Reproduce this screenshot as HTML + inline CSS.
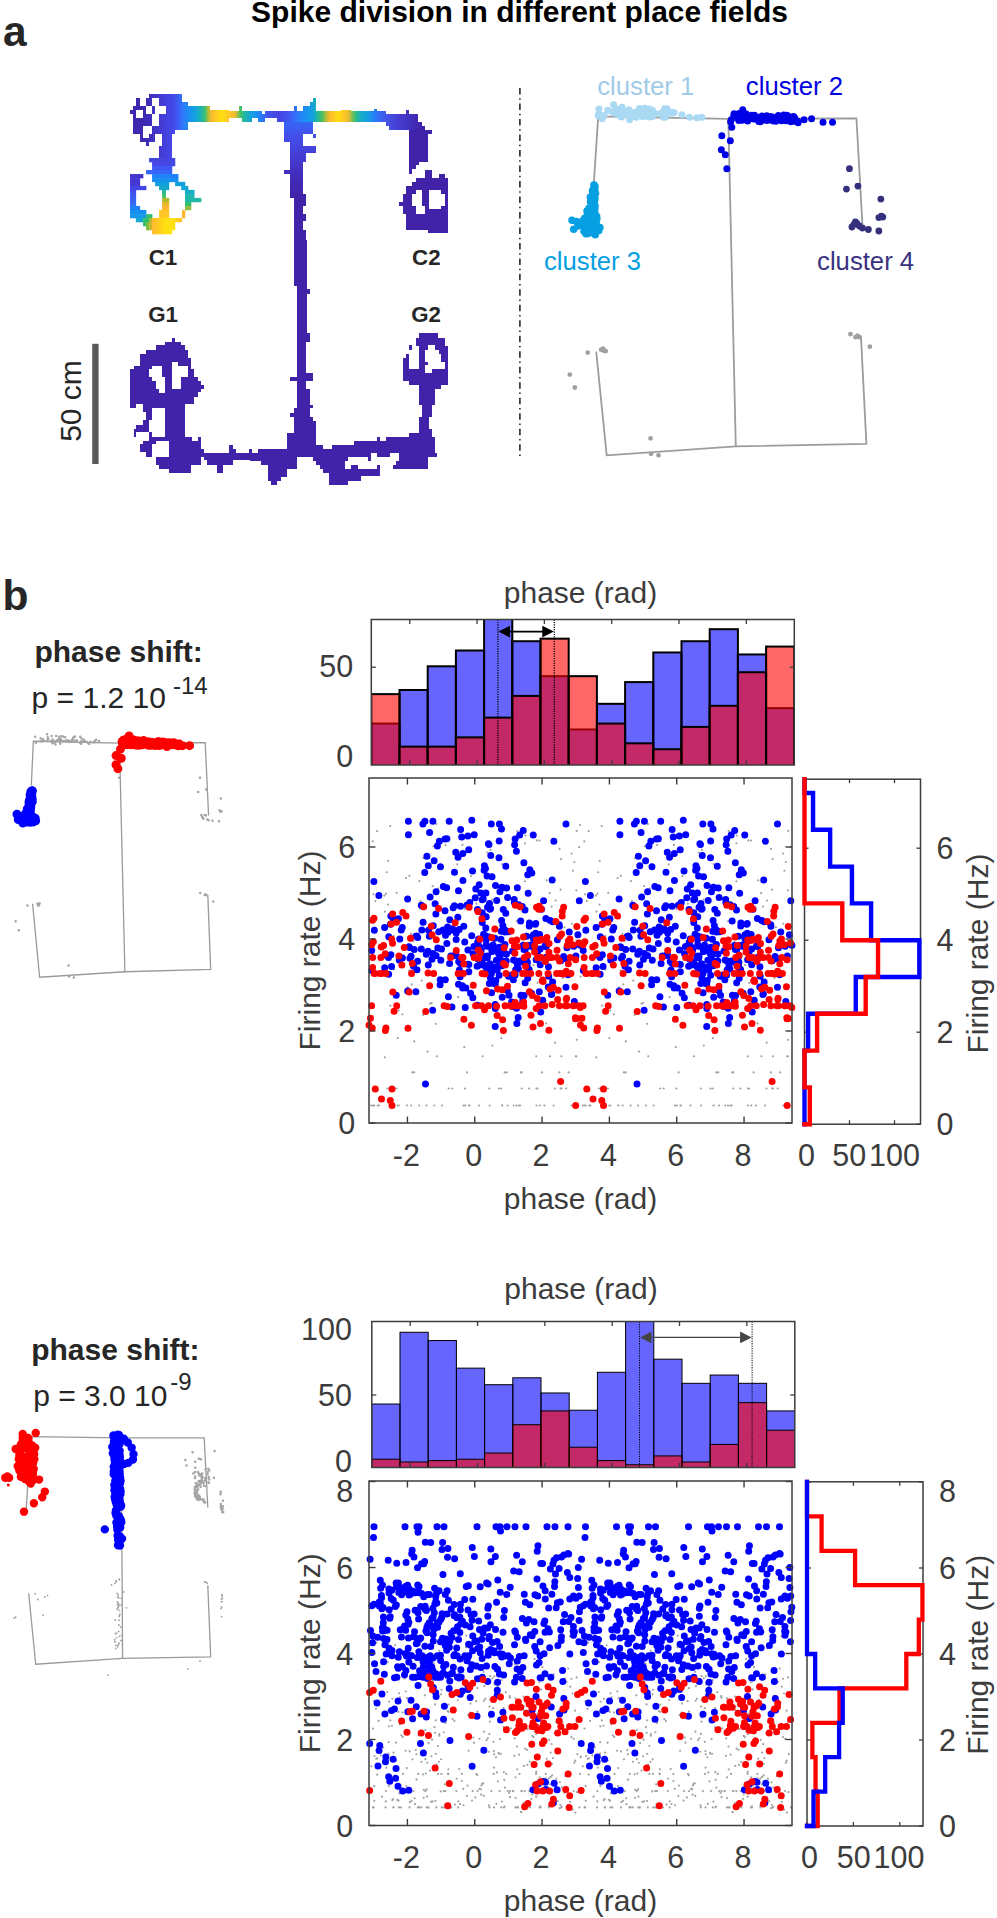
<!DOCTYPE html>
<html><head><meta charset="utf-8"><title>Spike division in different place fields</title>
<style>html,body{margin:0;padding:0;background:#fff}svg{display:block;font-family:"Liberation Sans",sans-serif}</style>
</head><body>
<svg width="997" height="1918" viewBox="0 0 997 1918">
<rect width="997" height="1918" fill="#fff"/>
<text x="3" y="46" font-size="42.5" text-anchor="start" font-weight="bold" fill="#262626">a</text>
<text x="519.5" y="22.2" font-size="30" text-anchor="middle" font-weight="bold" fill="#000">Spike division in different place fields</text>
<defs><linearGradient id="gt" gradientUnits="userSpaceOnUse" x1="128" y1="0" x2="450" y2="0"><stop offset="0.0000" stop-color="#4123aa"/><stop offset="0.0528" stop-color="#3f2ab2"/><stop offset="0.0745" stop-color="#4030c0"/><stop offset="0.1149" stop-color="#4540dc"/><stop offset="0.1398" stop-color="#4548ea"/><stop offset="0.1584" stop-color="#3a62f5"/><stop offset="0.1708" stop-color="#2f78fb"/><stop offset="0.1863" stop-color="#1c8cf3"/><stop offset="0.2112" stop-color="#12a4dc"/><stop offset="0.2267" stop-color="#1fb5ac"/><stop offset="0.2391" stop-color="#3cc078"/><stop offset="0.2484" stop-color="#a8be3c"/><stop offset="0.2578" stop-color="#f0ba30"/><stop offset="0.2671" stop-color="#ffc32a"/><stop offset="0.2919" stop-color="#ffe010"/><stop offset="0.3168" stop-color="#ffc52a"/><stop offset="0.3323" stop-color="#efba32"/><stop offset="0.3416" stop-color="#90c048"/><stop offset="0.3509" stop-color="#3cc070"/><stop offset="0.3665" stop-color="#1fb4b0"/><stop offset="0.3851" stop-color="#14a0e0"/><stop offset="0.4037" stop-color="#1c8cf3"/><stop offset="0.4193" stop-color="#3072f8"/><stop offset="0.4348" stop-color="#4552ea"/><stop offset="0.4720" stop-color="#4545e4"/><stop offset="0.5031" stop-color="#3f5af2"/><stop offset="0.5248" stop-color="#2f76fa"/><stop offset="0.5497" stop-color="#1c8ef2"/><stop offset="0.5745" stop-color="#12a2de"/><stop offset="0.5870" stop-color="#20b6a4"/><stop offset="0.6025" stop-color="#48c060"/><stop offset="0.6149" stop-color="#b0be3a"/><stop offset="0.6242" stop-color="#f0ba30"/><stop offset="0.6335" stop-color="#ffc22a"/><stop offset="0.6522" stop-color="#ffde12"/><stop offset="0.6739" stop-color="#ffc42a"/><stop offset="0.6863" stop-color="#e0bc34"/><stop offset="0.6957" stop-color="#80c050"/><stop offset="0.7081" stop-color="#30bc84"/><stop offset="0.7236" stop-color="#18acc8"/><stop offset="0.7422" stop-color="#14a0e0"/><stop offset="0.7640" stop-color="#2482f6"/><stop offset="0.7857" stop-color="#3c64f2"/><stop offset="0.8075" stop-color="#4550e6"/><stop offset="0.8354" stop-color="#4540d4"/><stop offset="0.8758" stop-color="#4030bc"/><stop offset="0.9130" stop-color="#4123aa"/><stop offset="1.0000" stop-color="#4123aa"/></linearGradient>
<linearGradient id="gs" gradientUnits="userSpaceOnUse" x1="0" y1="108" x2="0" y2="240"><stop offset="0.0000" stop-color="#2f76fa"/><stop offset="0.1061" stop-color="#3566f6"/><stop offset="0.2045" stop-color="#4350ea"/><stop offset="0.3182" stop-color="#4542dc"/><stop offset="0.4545" stop-color="#4332c4"/><stop offset="0.5833" stop-color="#4128b2"/><stop offset="0.6742" stop-color="#4123aa"/><stop offset="1.0000" stop-color="#4123aa"/></linearGradient>
<linearGradient id="gn" gradientUnits="userSpaceOnUse" x1="0" y1="131" x2="0" y2="162"><stop offset="0.0000" stop-color="#4234c8"/><stop offset="0.4516" stop-color="#4238ce"/><stop offset="0.8710" stop-color="#4545e0"/><stop offset="1.0000" stop-color="#4548e8"/></linearGradient>
<linearGradient id="gl" gradientUnits="userSpaceOnUse" x1="0" y1="190" x2="0" y2="206"><stop offset="0" stop-color="#4548ea"/><stop offset="1" stop-color="#2f70f8"/></linearGradient>
<linearGradient id="gy" gradientUnits="userSpaceOnUse" x1="152" y1="0" x2="182" y2="0"><stop offset="0" stop-color="#ffb830"/><stop offset="0.45" stop-color="#ffe010"/><stop offset="0.7" stop-color="#ffe010"/><stop offset="1" stop-color="#ffc02a"/></linearGradient></defs>
<path d="M149.07 94.02H181.57V102.04H149.07ZM181.57 102.04H187.99V130.13H181.57ZM145.86 98.03H181.57V130.13H145.86ZM133.02 106.05H149.07V134.14H133.02ZM135.99 98.03H139.84V106.05H135.99ZM129.97 110.07H133.02V113.68H129.97ZM139.84 134.14H155.49V141.76H139.84ZM145.86 141.76H149.07V146.17H145.86ZM149.07 130.13H174.75V134.14H149.07ZM161.91 134.14H171.94V157.81H161.91ZM159.1 146.17H171.94V157.81H159.1Z" fill="url(#gt)" shape-rendering="crispEdges"/>
<path d="M152.28 98.03H159.1V106.05H152.28ZM155.49 106.05H165.52V113.68H155.49ZM145.86 106.05H152.28V113.68H145.86ZM152.28 113.68H159.1V126.11H152.28ZM135.99 110.07H143.05V118.09H135.99ZM143.05 126.11H152.28V134.14H143.05ZM143.05 134.14H149.07V138.15H143.05Z" fill="#fff" shape-rendering="crispEdges"/>
<path d="M181.38 102.05H188.2V121.66H181.38ZM188.2 106.31H210.37V121.66H188.2ZM210.37 109.72H229.13V121.66H210.37ZM229.13 110.58H239.36V118.25H229.13ZM239.36 106.31H241.92V118.25H239.36ZM241.92 110.58H261.52V118.25H241.92ZM241.92 118.25H252.15V121.66H241.92ZM258.11 113.99H264.93V121.66H258.11ZM264.93 110.58H290.51V118.25H264.93ZM276.87 118.25H290.51V121.66H276.87Z" fill="url(#gt)" shape-rendering="crispEdges"/>
<rect x="149.07" y="157.99" width="26.18" height="4.31" fill="#4545e0"/>
<rect x="152.08" y="162.01" width="23.17" height="4.31" fill="#4548e8"/>
<rect x="152.08" y="166.02" width="20.16" height="4.31" fill="#3f58f2"/>
<rect x="146.06" y="170.03" width="26.18" height="4.31" fill="#3565f8"/>
<rect x="152.08" y="174.04" width="26.38" height="4.31" fill="#1f80fa"/>
<rect x="152.08" y="178.05" width="26.38" height="4.11" fill="#1590f0"/>
<rect x="155.09" y="181.87" width="14.14" height="4.31" fill="#12a0dd"/>
<rect x="159.1" y="185.88" width="10.13" height="4.31" fill="#15a8c8"/>
<rect x="175.15" y="181.87" width="10.13" height="4.31" fill="#12a0dd"/>
<rect x="181.17" y="185.88" width="7.12" height="4.31" fill="#12a8d5"/>
<rect x="184.98" y="189.89" width="9.53" height="4.51" fill="#15acc8"/>
<rect x="184.98" y="194.1" width="9.53" height="4.11" fill="#20b5b0"/>
<rect x="184.98" y="197.91" width="16.35" height="4.31" fill="#22b8a8"/>
<rect x="184.98" y="201.93" width="6.32" height="4.31" fill="#30c070"/>
<rect x="184.98" y="205.94" width="6.32" height="4.31" fill="#90bc40"/>
<rect x="181.97" y="209.95" width="3.31" height="8.32" fill="#ffb830"/>
<rect x="162.11" y="189.89" width="3.81" height="4.51" fill="#20b898"/>
<rect x="162.11" y="194.1" width="3.81" height="4.11" fill="#40c060"/>
<rect x="162.11" y="197.91" width="7.12" height="4.31" fill="#b0bc30"/>
<rect x="162.11" y="201.93" width="7.12" height="4.31" fill="#e8b828"/>
<rect x="162.11" y="205.94" width="7.12" height="4.31" fill="#ffb830"/>
<rect x="159.1" y="209.95" width="10.13" height="8.32" fill="#ffc828"/>
<rect x="130.02" y="174.04" width="13.34" height="4.31" fill="#4535d0"/>
<rect x="130.02" y="178.05" width="10.13" height="8.12" fill="#4538d5"/>
<rect x="130.02" y="185.88" width="16.35" height="4.31" fill="#4545e5"/>
<rect x="130.02" y="189.89" width="6.12" height="16.35" fill="url(#gl)"/>
<rect x="130.02" y="205.94" width="10.13" height="4.31" fill="#2080f8"/>
<rect x="130.02" y="209.95" width="16.35" height="4.51" fill="#1590f0"/>
<rect x="130.02" y="214.16" width="16.35" height="4.11" fill="#1598e8"/>
<rect x="146.06" y="214.16" width="6.32" height="4.11" fill="#30c070"/>
<rect x="135.83" y="217.97" width="7.52" height="4.31" fill="#15a8d0"/>
<rect x="143.05" y="217.97" width="6.32" height="4.31" fill="#30c070"/>
<rect x="149.07" y="217.97" width="3.31" height="4.31" fill="#b0bc30"/>
<rect x="143.05" y="221.99" width="3.31" height="4.31" fill="#30c070"/>
<rect x="146.06" y="221.99" width="3.31" height="8.32" fill="#80bc40"/>
<rect x="149.07" y="221.99" width="3.31" height="8.32" fill="#c8b830"/>
<rect x="152.08" y="217.97" width="29.89" height="4.31" fill="url(#gy)"/>
<rect x="152.08" y="221.99" width="23.17" height="8.32" fill="url(#gy)"/>
<rect x="152.08" y="230.01" width="20.16" height="4.31" fill="url(#gy)"/>
<path d="M280 110.58H315.81V121.66H280ZM293.64 106.31H297.05V110.58H293.64ZM303.02 106.31H309.84V110.58H303.02ZM309.84 102.05H313.25V110.58H309.84ZM313.25 97.79H315.81V110.58H313.25ZM315.81 110.58H385.72V121.66H315.81ZM341.38 110.07H350.76V110.92H341.38ZM373.78 109.21H377.19V110.92H373.78ZM406.18 109.72H408.74V113.99H406.18ZM385.72 113.99H418.11V125.92H385.72ZM389.13 121.66H421.52V130.19H389.13Z" fill="url(#gt)" shape-rendering="crispEdges"/>
<path d="M284.26 121.66H313.25V133.6H284.26ZM284.26 133.6H306.43V142.12H284.26ZM290.23 142.12H303.02V197.54H290.23ZM303.02 146.38H315.81V153.2H303.02ZM313.25 145.53H315.81V153.2H313.25ZM313.25 134.45H315.81V137.86H313.25ZM303.02 153.2H306.43V161.73H303.02ZM284.26 170.26H290.23V173.67H284.26Z" fill="url(#gs)" shape-rendering="crispEdges"/>
<path d="M303.02 134.45H313.25V142.12H303.02Z" fill="#fff" shape-rendering="crispEdges"/>
<path d="M408.74 130.19H428.35V161.73H408.74ZM421.52 125.92H424.93V130.19H421.52ZM428.35 130.19H431.76V134.45H428.35ZM408.74 158.32H418.97V165.14H408.74ZM408.74 165.14H415.56V169.4H408.74ZM408.74 169.4H412.15V173.67H408.74ZM293.64 194.13H306.43V246.13H293.64ZM424.93 170.26H431.76V177.93H424.93ZM438.58 173.67H444.54V177.93H438.58ZM415.56 177.93H447.95V186.45H415.56ZM412.15 182.19H447.95V187.31H412.15ZM406.18 186.45H447.95V229.93H406.18ZM402.77 194.13H406.18V213.74H402.77ZM399.36 201.8H402.77V206.06H399.36ZM428.35 229.93H447.95V233.35H428.35Z" fill="#4123aa" shape-rendering="crispEdges"/>
<path d="M303.02 206.06H306.43V213.74H303.02ZM303.02 221.41H306.43V229.93H303.02ZM415.56 189.86H421.52V194.13H415.56ZM412.15 194.13H421.52V206.06H412.15ZM415.56 206.06H424.93V213.74H415.56ZM429.2 189.86H441.13V209.47H429.2ZM441.13 194.13H444.54V206.06H441.13Z" fill="#fff" shape-rendering="crispEdges"/>
<path d="M294 240H306.8V335H297V285.5H294Z M306.8 289.3h3v4.5h-3z" fill="#4123aa" shape-rendering="crispEdges"/>
<path d="M172.01 337.67H174.56V341.94H172.01ZM165.19 341.94H181.38V346.2H165.19ZM155.81 345.35H184.79V349.61H155.81ZM146.43 349.61H188.2V353.87H146.43ZM139.61 353.87H188.2V358.13H139.61ZM139.61 358.13H190.76V365.81H139.61ZM133.64 365.81H190.76V369.22H133.64ZM130.23 369.22H194.17V404.17H130.23ZM194.17 376.89H197.58V396.5H194.17ZM197.58 381.15H200.99V392.24H197.58ZM200.99 384.56H203.55V388.83H200.99ZM130.23 404.17H136.2V408.44H130.23ZM143.02 404.17H184.79V408.44H143.02ZM165.19 404.17H184.79V437.42H165.19ZM143.02 408.44H152.4V411.85H143.02ZM146.43 411.85H152.4V420.37H146.43ZM143.02 420.37H148.99V424.63H143.02ZM136.2 424.63H148.99V428.9H136.2ZM133.64 428.9H148.99V432.31H133.64ZM133.64 432.31H136.2V436.57H133.64ZM148.99 432.31H152.4V438.27H148.99ZM148.99 436.57H165.19V440.83H148.99ZM143.02 440.83H155.81V444.24H143.02ZM139.61 444.24H152.4V451.92H139.61ZM145.58 451.92H152.4V457.03H145.58ZM165.19 437.42H191.61V440.83H165.19ZM197.58 437.08H200.99V440.83H197.58ZM168.6 440.83H200.99V449.36H168.6ZM168.6 449.36H203.55V457.03H168.6ZM155.81 457.03H200.99V464.7H155.81ZM159.22 464.7H190.76V468.97H159.22ZM168.6 468.97H190.76V472.89H168.6ZM203.55 452.77H258.11V460.44H203.55ZM229.13 445.1H232.54V452.77H229.13ZM232.54 449.36H235.95V452.77H232.54ZM248.74 449.36H252.15V452.77H248.74ZM206.96 460.44H232.54V464.7H206.96ZM217.19 464.7H223.16V472.89H217.19ZM258.11 449.36H290.51V464.7H258.11ZM261.52 464.7H290.51V468.97H261.52ZM268.35 468.97H287.1V480.05H268.35ZM270.9 480.05H281.13V484.31H270.9ZM287.1 433.16H290.51V449.36H287.1Z" fill="#4123aa" shape-rendering="crispEdges"/>
<path d="M152.4 365.81H161.78V369.22H152.4ZM148.99 369.22H161.78V376.89H148.99ZM152.4 376.89H165.19V381.15H152.4ZM155.81 381.15H165.19V388.83H155.81ZM159.22 388.83H165.19V393.09H159.22ZM172.01 361.54H177.97V388.83H172.01ZM177.97 365.81H188.2V376.89H177.97ZM177.97 376.89H181.38V388.83H177.97Z" fill="#fff" shape-rendering="crispEdges"/>
<path d="M297.05 329.15H306.43V434.01H297.05ZM306.43 333.41H309.84V341.94H306.43ZM290.23 376.89H297.05V381.15H290.23ZM306.43 373.48H313.25V381.15H306.43ZM306.43 388.83H309.84V416.96H306.43ZM309.84 405.03H313.25V408.44H309.84ZM293.64 408.44H297.05V434.01H293.64ZM290.23 412.7H293.64V416.96H290.23ZM306.43 416.96H313.25V434.01H306.43ZM313.25 421.22H315.81V445.95H313.25ZM286.82 433.16H315.81V449.36H286.82ZM280 449.36H297.05V468.97H280ZM280 468.97H286.82V476.64H280ZM280 476.64H283.41V480.9H280ZM297.05 449.36H322.63V457.03H297.05ZM315.81 445.1H322.63V449.36H315.81ZM313.25 457.03H428.35V461.29H313.25ZM316.66 461.29H428.35V465.56H316.66ZM320.07 465.56H428.35V468.97H320.07ZM323.48 468.97H379.75V473.23H323.48ZM329.45 473.23H379.75V476.64H329.45ZM329.45 476.64H360.99V480.9H329.45ZM329.45 480.9H348.2V484.82H329.45ZM322.63 449.36H428.35V457.03H322.63ZM332.01 445.1H354.17V449.36H332.01ZM354.17 440.83H386.57V449.36H354.17ZM377.19 437.08H379.75V440.83H377.19ZM386.57 437.08H408.74V449.36H386.57ZM408.74 433.16H431.76V449.36H408.74ZM418.97 387.97H435.17V405.03H418.97ZM421.52 405.03H431.76V416.96H421.52ZM418.97 416.96H429.2V433.16H418.97ZM429.2 428.9H431.76V437.42H429.2ZM431.76 437.08H435.17V457.03H431.76ZM435.17 452.77H436.87V457.03H435.17ZM418.97 333.41H437.72V337.67H418.97ZM415.56 337.67H444.54V346.2H415.56ZM441.13 337.67H444.54V349.61H441.13ZM444.54 346.2H447.95V384.56H444.54ZM418.97 337.67H424.93V372.63H418.97ZM406.18 353.87H408.74V358.13H406.18ZM402.77 358.13H408.74V381.15H402.77ZM408.74 345.35H412.15V349.61H408.74ZM408.74 369.22H421.52V372.63H408.74ZM402.77 372.63H447.95V381.15H402.77ZM408.74 381.15H447.95V384.56H408.74ZM418.97 384.56H441.13V388.83H418.97ZM424.93 345.35H444.54V372.63H424.93Z" fill="#4123aa" shape-rendering="crispEdges"/>
<path d="M348.2 457.03H370.37V461.29H348.2ZM344.79 461.29H351.61V468.97H344.79ZM358.44 465.56H377.19V468.97H358.44ZM370.37 452.77H399.36V457.03H370.37ZM395.95 457.03H399.36V461.29H395.95ZM392.54 461.29H399.36V465.56H392.54ZM379.75 465.56H392.54V468.97H379.75ZM428.35 345.35H435.17V349.61H428.35ZM424.93 349.61H438.58V353.87H424.93ZM424.93 353.87H441.13V361.54H424.93ZM428.35 361.54H444.54V369.22H428.35ZM424.93 364.95H444.54V369.22H424.93ZM424.93 369.22H431.76V372.63H424.93Z" fill="#fff" shape-rendering="crispEdges"/>
<path d="M377.19 452.77H379.75V457.03H377.19ZM351.61 464.7H358.44V468.97H351.61Z" fill="#4123aa" shape-rendering="crispEdges"/>
<rect x="250" y="412" width="90" height="80" fill="#fff"/>
<path d="M296.94 411.74H309.58V417.15H296.94ZM294.23 411.74H296.94V417.15H294.23ZM290.17 413.09H294.23V417.15H290.17ZM294.23 417.15H313.19V421.21H294.23ZM294.23 421.21H315.9V432.95H294.23ZM287.01 432.95H315.9V449.2H287.01ZM315.9 445.14H322.67V449.2H315.9ZM250 449.2H251.81V453.26H250ZM258.12 449.2H340.27V456.87H258.12ZM250 453.26H258.12V456.87H250ZM250 456.87H296.94V461.38H250ZM261.28 461.38H296.94V464.99H261.28ZM268.05 464.99H296.94V469.06H268.05ZM268.05 469.06H287.01V476.73H268.05ZM268.05 476.73H280.69V480.79H268.05ZM271.21 480.79H277.08V484.85H271.21ZM332.15 445.14H340.27V449.2H332.15ZM313.19 456.87H340.27V461.38H313.19ZM316.35 461.38H340.27V464.99H316.35ZM319.51 464.99H340.27V469.06H319.51ZM322.67 469.06H340.27V473.12H322.67ZM328.99 473.12H340.27V484.85H328.99Z" fill="#4123aa" shape-rendering="crispEdges"/>
<rect x="330" y="430" width="107" height="62" fill="#fff"/>
<path d="M330 449.31H332.21V469.17H330ZM332.21 445.23H354.27V469.17H332.21ZM354.27 441.03H386.27V469.17H354.27ZM377.44 437.17H380.2V441.03H377.44ZM386.27 437.17H408.89V469.17H386.27ZM408.89 433.09H418.82V468.62H408.89ZM418.82 429.45H428.19V468.62H418.82ZM428.19 429.45H432.06V457.03H428.19ZM432.06 437.17H434.81V457.03H432.06ZM434.81 453.17H437.02V457.03H434.81ZM330 469.17H380.2V476.34H330ZM330 476.34H360.89V481.3H330ZM330 481.3H347.65V484.61H330Z" fill="#4123aa" shape-rendering="crispEdges"/>
<path d="M370.82 453.17H377.44V457.03H370.82ZM390.13 453.17H398.96V457.03H390.13ZM347.65 457.03H367.51V461.44H347.65ZM370.82 457.03H398.96V461.44H370.82ZM344.89 461.44H350.96V469.17H344.89ZM350.96 461.44H357.58V465.31H350.96ZM357.58 461.44H377.44V469.17H357.58ZM377.44 461.44H380.2V465.31H377.44ZM380.2 461.44H396.2V465.31H380.2ZM380.2 465.31H392.89V469.17H380.2Z" fill="#fff" shape-rendering="crispEdges"/>
<text x="163" y="265" font-size="22.3" text-anchor="middle" font-weight="bold" fill="#262626">C1</text>
<text x="426.3" y="265" font-size="22.3" text-anchor="middle" font-weight="bold" fill="#262626">C2</text>
<text x="163" y="322" font-size="22.3" text-anchor="middle" font-weight="bold" fill="#262626">G1</text>
<text x="426" y="322" font-size="22.3" text-anchor="middle" font-weight="bold" fill="#262626">G2</text>
<rect x="92.2" y="343.8" width="6.4" height="120.2" fill="#595959"/>
<text x="81" y="401" font-size="30" text-anchor="middle" font-weight="normal" fill="#262626" transform="rotate(-90 81 401)">50 cm</text>
<line x1="519.9" y1="88.1" x2="519.9" y2="456.5" stroke="#1a1a1a" stroke-width="1.5" stroke-dasharray="6.5 3.75 1.5 3.73"/>
<path d="M593.72 184.63L598.21 116.33L728.32 118.82L856.43 118.33L862.41 224.51" fill="none" stroke="#9c9c9c" stroke-width="1.8"/>
<path d="M728.32 118.82L735.79 446.34" fill="none" stroke="#9c9c9c" stroke-width="1.8"/>
<path d="M596.21 351.63L606.68 455.31L735.79 446.34L866.4 443.85L860.92 335.67" fill="none" stroke="#9c9c9c" stroke-width="1.8"/>
<path d="M587.74 352.62h0M601.2 349.63h0M603.69 350.63h0M605.68 351.13h0M603.19 348.63h0M569.79 374.56h0M574.78 387.52h0M650.55 438.36h0M651.05 453.82h0M658.52 455.31h0M850.45 334.18h0M855.43 337.17h0M859.42 337.17h0M857.43 335.67h0M869.89 346.64h0" stroke="#a0a0a0" stroke-width="4.8" stroke-linecap="round" fill="none"/>
<path d="M615.6 113.24h0M625.79 113.77h0M645.56 108.94h0M598.23 115.87h0M617.25 110.46h0M674.14 112.57h0M661.84 112.63h0M646.59 109.71h0M646.26 116.14h0M637.63 115.01h0M649.09 108.93h0M655.8 113.66h0M620.49 108.63h0M664.09 112.6h0M652.75 116.24h0M652.39 116.62h0M627.73 115.54h0M631.56 116.75h0M665.12 109.23h0M607.71 110.3h0M671.81 112.27h0M645.63 111.06h0M636.4 111.82h0M624.32 113.6h0M642.35 116.47h0M649.9 116.69h0M663.38 117.25h0M649.08 109.82h0M663.71 117.01h0M667.11 113.46h0M652.36 110.25h0M661.47 113.5h0M619.23 108.92h0M663.19 117.24h0M604.05 115.54h0M628.92 109.71h0M619.92 115.25h0M664.65 108.75h0M644.69 108.76h0M652.72 111.32h0M665.27 117.15h0M636.26 117.31h0M621.14 109.05h0M643.55 108.64h0M612.46 112.02h0M644.38 109.76h0M600.49 116.14h0M621.46 116.96h0M666.49 111.74h0M632.78 113.02h0M646.96 113.7h0M640.42 113.92h0M669.89 112.9h0M630.53 114.82h0M615.57 111.06h0M672.76 113.03h0M639.58 108.46h0M629.29 113.56h0M598.76 113.88h0M646.06 108.89h0M645.68 112.54h0M649.7 111.52h0M651.83 114.98h0M598.92 108.9h0M649.44 117h0M616.61 112.45h0M643 111.23h0M625.33 111.16h0M625.73 113.7h0M620.42 111.74h0M613.66 104.87h0M622.13 107.36h0M644.57 108.35h0M667 108.85h0M681.95 114.84h0M689.43 117.33h0M696.91 117.83h0M701.89 117.33h0M629.61 119.82h0M602.19 118.82h0" stroke="#a9d9f3" stroke-width="7" stroke-linecap="round" fill="none"/>
<path d="M783.44 115.19h0M769.47 119.99h0M751.64 115.36h0M785.61 116.73h0M743.2 117.01h0M778.33 115.48h0M752.46 116.36h0M787.65 118.14h0M789.16 116.4h0M753.47 119.12h0M791.18 118.32h0M745.79 114.22h0M766.74 115.67h0M785.81 120.82h0M742.94 115.55h0M785.84 119.48h0M785.77 117.46h0M739.23 115.55h0M784.92 116.93h0M754.14 117.12h0M759.19 117.19h0M793.64 116.5h0M730.63 121.75h0M790.85 121.8h0M760.19 121.69h0M794.11 116.94h0M781.6 120.8h0M775.92 118.45h0M750.19 116.35h0M745.96 113.74h0M770.81 116.57h0M786.05 115.44h0M792.47 119.9h0M793.86 121.2h0M792.2 119.15h0M731.21 119.78h0M742.13 115.72h0M775.91 118.49h0M758.77 121.6h0M772.42 117.03h0M747.68 120.95h0M763.14 120.32h0M754.51 115.25h0M767.09 120.61h0M742.09 120.29h0M793.72 120.63h0M786.96 115.23h0M773.55 120.97h0M733.74 115.17h0M748.79 117.97h0M759.41 117.73h0M783.73 115.03h0M734.08 113.77h0M738.88 113.42h0M797.36 120.94h0M736.23 117.48h0M752.04 116.18h0M754.48 119.11h0M770.66 117.13h0M743.45 116.03h0M738.82 118.04h0M779.57 117.53h0M735.81 114.34h0M755.99 118.77h0M784.15 117.66h0M785.42 119.35h0M760 116.91h0M764.44 119.69h0M759.24 119.56h0M762.01 115.93h0M767.17 119.65h0M735.23 116.71h0M759.61 121.11h0M794.73 117.92h0M792.08 120.53h0M748.35 117.39h0M738.78 120.48h0M775.87 121.16h0M784.83 119.64h0M780.79 118.86h0M742.77 109.85h0M804.09 119.82h0M811.57 118.82h0M823.03 122.31h0M832.5 122.31h0M731.8 127.3h0M721.83 135.77h0M730.31 140.76h0M721.34 149.73h0M725.32 154.72h0M726.82 168.67h0M798.11 122.81h0" stroke="#0000e6" stroke-width="7" stroke-linecap="round" fill="none"/>
<path d="M594.02 191.45h0M593.91 184.92h0M583.33 220.16h0M592.46 190.81h0M584.29 224.04h0M595.03 186.49h0M594.9 192.44h0M595.04 216.37h0M590.72 226.62h0M582.91 221.06h0M590.32 219.9h0M584.92 217.95h0M596.53 219.22h0M593.53 189h0M594.86 212.13h0M590.92 198.45h0M593.49 198.81h0M588.67 219.39h0M591.29 204.05h0M591.58 203.31h0M593.85 190.32h0M587.64 227.35h0M585.34 219.16h0M593.97 217.03h0M590.82 216.39h0M592.96 208.91h0M583.62 224.65h0M594.6 191.04h0M589.77 225.34h0M593.79 207.24h0M592.01 195.76h0M593.53 196.4h0M590.49 201.76h0M596.64 217.04h0M593.94 200.91h0M595.03 206h0M588.28 212.94h0M590.34 197.29h0M590.37 208.74h0M592.59 195.07h0M594.39 202.07h0M595.52 193.62h0M592.53 208.74h0M594.88 208.27h0M590.8 221.9h0M593.75 208.81h0M588.12 223.18h0M596.86 218.64h0M588.96 208.24h0M594.14 198.1h0M596.67 216.44h0M585.57 223.08h0M591.93 195.93h0M594.18 195.82h0M596.24 223.25h0M595.01 199.05h0M591.88 201.69h0M584.47 218.47h0M594.89 190.86h0M591.57 200.72h0M593.09 212.77h0M594.21 185.12h0M591.64 206.96h0M593.48 196.93h0M587.35 226.72h0M587 211.35h0M593.72 199.95h0M595.07 191.96h0M582.61 225.06h0M587.14 226.22h0M593.95 220.09h0M593.74 200.89h0M594.63 215.63h0M594.31 199.53h0M592.38 226.93h0M587.03 211.02h0M589.96 209.32h0M592.87 218.06h0M587.47 212.22h0M592.4 215.31h0M595.27 234.74h0M589.38 225.03h0M594.64 226.17h0M587.23 233.79h0M585.34 223.86h0M587.33 222.9h0M589.73 230.8h0M598.81 230.5h0M591.5 221.24h0M590.92 222.42h0M590.7 232.74h0M592.7 226.25h0M586.44 227.38h0M591.99 222.48h0M588.21 232.18h0M583 225.58h0M585.88 233.74h0M595.17 230.36h0M593.96 229.17h0M592.81 220.37h0M592.99 230.89h0M584 231.17h0M594.69 220.76h0M588.17 225.72h0M587.85 229.73h0M584.04 226.39h0M592.75 231.56h0M591.63 226.05h0M594.32 219.92h0M597.05 225.85h0M584.24 225.39h0M584.85 221.25h0M589.23 223.21h0M595.63 222.94h0M584.6 223.19h0M599.88 227.61h0M587.7 222.43h0M584.74 226.65h0M593.78 233.3h0M598.03 228.89h0M587.34 223h0M582.54 224.15h0M594.1 225.54h0M593.33 221.03h0M596.87 229.09h0M572 220.2h0M573.7 229.3h0M576.5 221.5h0M578 226h0" stroke="#069fe2" stroke-width="7.5" stroke-linecap="round" fill="none"/>
<path d="M849.45 168.67h0M857.93 186.12h0M846.46 189.11h0M880.86 199.08h0M881.36 216.03h0M878.86 217.53h0M882.85 217.03h0M853.94 224.51h0M856.93 223.51h0M859.42 226h0M862.41 228h0M868.39 229.49h0M878.86 230.99h0M851.94 227h0M855.43 222.01h0" stroke="#35307e" stroke-width="6.8" stroke-linecap="round" fill="none"/>
<text x="645.8" y="94.5" font-size="25.7" text-anchor="middle" font-weight="normal" fill="#9fcbe6">cluster 1</text>
<text x="794.4" y="94.5" font-size="25.7" text-anchor="middle" font-weight="normal" fill="#0000e0">cluster 2</text>
<text x="592.5" y="269.8" font-size="25.7" text-anchor="middle" font-weight="normal" fill="#069fe2">cluster 3</text>
<text x="865.6" y="269.8" font-size="25.7" text-anchor="middle" font-weight="normal" fill="#383280">cluster 4</text>
<text x="2.6" y="610.3" font-size="42.5" text-anchor="start" font-weight="bold" fill="#262626">b</text>
<clipPath id="hc1"><rect x="371.3" y="619.5" width="422.99999999999994" height="145.5"/></clipPath>
<g clip-path="url(#hc1)">
<rect x="371.3" y="723.55" width="28.2" height="44.45" fill="#0000ff" fill-opacity="0.6" stroke="#000" stroke-width="2.0"/>
<rect x="399.5" y="689.99" width="28.2" height="78.01" fill="#0000ff" fill-opacity="0.6" stroke="#000" stroke-width="2.0"/>
<rect x="427.7" y="666.3" width="28.2" height="101.7" fill="#0000ff" fill-opacity="0.6" stroke="#000" stroke-width="2.0"/>
<rect x="455.9" y="650.51" width="28.2" height="117.49" fill="#0000ff" fill-opacity="0.6" stroke="#000" stroke-width="2.0"/>
<rect x="484.1" y="587.34" width="28.2" height="180.66" fill="#0000ff" fill-opacity="0.6" stroke="#000" stroke-width="2.0"/>
<rect x="512.3" y="641.23" width="28.2" height="126.77" fill="#0000ff" fill-opacity="0.6" stroke="#000" stroke-width="2.0"/>
<rect x="540.5" y="676.17" width="28.2" height="91.83" fill="#0000ff" fill-opacity="0.6" stroke="#000" stroke-width="2.0"/>
<rect x="568.7" y="729.47" width="28.2" height="38.53" fill="#0000ff" fill-opacity="0.6" stroke="#000" stroke-width="2.0"/>
<rect x="596.9" y="703.81" width="28.2" height="64.19" fill="#0000ff" fill-opacity="0.6" stroke="#000" stroke-width="2.0"/>
<rect x="625.1" y="682.09" width="28.2" height="85.91" fill="#0000ff" fill-opacity="0.6" stroke="#000" stroke-width="2.0"/>
<rect x="653.3" y="652.48" width="28.2" height="115.52" fill="#0000ff" fill-opacity="0.6" stroke="#000" stroke-width="2.0"/>
<rect x="681.5" y="641.23" width="28.2" height="126.77" fill="#0000ff" fill-opacity="0.6" stroke="#000" stroke-width="2.0"/>
<rect x="709.7" y="629.19" width="28.2" height="138.81" fill="#0000ff" fill-opacity="0.6" stroke="#000" stroke-width="2.0"/>
<rect x="737.9" y="654.46" width="28.2" height="113.54" fill="#0000ff" fill-opacity="0.6" stroke="#000" stroke-width="2.0"/>
<rect x="766.1" y="708.15" width="28.2" height="59.85" fill="#0000ff" fill-opacity="0.6" stroke="#000" stroke-width="2.0"/>
<rect x="371.3" y="694.13" width="28.2" height="73.87" fill="#ff0000" fill-opacity="0.6" stroke="#000" stroke-width="2.0"/>
<rect x="399.5" y="746.64" width="28.2" height="21.36" fill="#ff0000" fill-opacity="0.6" stroke="#000" stroke-width="2.0"/>
<rect x="427.7" y="746.64" width="28.2" height="21.36" fill="#ff0000" fill-opacity="0.6" stroke="#000" stroke-width="2.0"/>
<rect x="455.9" y="737.36" width="28.2" height="30.64" fill="#ff0000" fill-opacity="0.6" stroke="#000" stroke-width="2.0"/>
<rect x="484.1" y="717.62" width="28.2" height="50.38" fill="#ff0000" fill-opacity="0.6" stroke="#000" stroke-width="2.0"/>
<rect x="512.3" y="695.91" width="28.2" height="72.09" fill="#ff0000" fill-opacity="0.6" stroke="#000" stroke-width="2.0"/>
<rect x="540.5" y="638.66" width="28.2" height="129.34" fill="#ff0000" fill-opacity="0.6" stroke="#000" stroke-width="2.0"/>
<rect x="568.7" y="676.17" width="28.2" height="91.83" fill="#ff0000" fill-opacity="0.6" stroke="#000" stroke-width="2.0"/>
<rect x="596.9" y="723.55" width="28.2" height="44.45" fill="#ff0000" fill-opacity="0.6" stroke="#000" stroke-width="2.0"/>
<rect x="625.1" y="743.29" width="28.2" height="24.71" fill="#ff0000" fill-opacity="0.6" stroke="#000" stroke-width="2.0"/>
<rect x="653.3" y="749.21" width="28.2" height="18.79" fill="#ff0000" fill-opacity="0.6" stroke="#000" stroke-width="2.0"/>
<rect x="681.5" y="726.9" width="28.2" height="41.1" fill="#ff0000" fill-opacity="0.6" stroke="#000" stroke-width="2.0"/>
<rect x="709.7" y="705.78" width="28.2" height="62.22" fill="#ff0000" fill-opacity="0.6" stroke="#000" stroke-width="2.0"/>
<rect x="737.9" y="672.22" width="28.2" height="95.78" fill="#ff0000" fill-opacity="0.6" stroke="#000" stroke-width="2.0"/>
<rect x="766.1" y="646.56" width="28.2" height="121.44" fill="#ff0000" fill-opacity="0.6" stroke="#000" stroke-width="2.0"/>
</g>
<line x1="497.9" y1="619.5" x2="497.9" y2="765" stroke="#000" stroke-width="1.3" stroke-dasharray="1.2 1.2"/>
<line x1="554.3" y1="619.5" x2="554.3" y2="765" stroke="#000" stroke-width="1.3" stroke-dasharray="1.2 1.2"/>
<line x1="501.9" y1="631.6" x2="550.3" y2="631.6" stroke="#000" stroke-width="1.7"/>
<path d="M498.4 631.6l11.5 -5.8v11.6z M553.8 631.6l-11.5 -5.8v11.6z" fill="#000"/>
<line x1="409.73" y1="765" x2="409.73" y2="760.5" stroke="#3c3c3c" stroke-width="1.3"/>
<line x1="409.73" y1="619.5" x2="409.73" y2="624" stroke="#3c3c3c" stroke-width="1.3"/>
<line x1="477.05" y1="765" x2="477.05" y2="760.5" stroke="#3c3c3c" stroke-width="1.3"/>
<line x1="477.05" y1="619.5" x2="477.05" y2="624" stroke="#3c3c3c" stroke-width="1.3"/>
<line x1="544.37" y1="765" x2="544.37" y2="760.5" stroke="#3c3c3c" stroke-width="1.3"/>
<line x1="544.37" y1="619.5" x2="544.37" y2="624" stroke="#3c3c3c" stroke-width="1.3"/>
<line x1="611.7" y1="765" x2="611.7" y2="760.5" stroke="#3c3c3c" stroke-width="1.3"/>
<line x1="611.7" y1="619.5" x2="611.7" y2="624" stroke="#3c3c3c" stroke-width="1.3"/>
<line x1="679.02" y1="765" x2="679.02" y2="760.5" stroke="#3c3c3c" stroke-width="1.3"/>
<line x1="679.02" y1="619.5" x2="679.02" y2="624" stroke="#3c3c3c" stroke-width="1.3"/>
<line x1="746.34" y1="765" x2="746.34" y2="760.5" stroke="#3c3c3c" stroke-width="1.3"/>
<line x1="746.34" y1="619.5" x2="746.34" y2="624" stroke="#3c3c3c" stroke-width="1.3"/>
<line x1="371.3" y1="667.2" x2="375.8" y2="667.2" stroke="#3c3c3c" stroke-width="1.3"/>
<line x1="794.3" y1="667.2" x2="789.8" y2="667.2" stroke="#3c3c3c" stroke-width="1.3"/>
<text x="353.3" y="677.4" font-size="30.5" text-anchor="end" font-weight="normal" fill="#3c3c3c">50</text>
<text x="353.3" y="766.5" font-size="30.5" text-anchor="end" font-weight="normal" fill="#3c3c3c">0</text>
<rect x="371.3" y="619.5" width="423" height="145.5" fill="none" stroke="#3c3c3c" stroke-width="1.5"/>
<text x="580.5" y="603" font-size="30" text-anchor="middle" font-weight="normal" fill="#3c3c3c">phase (rad)</text>
<path d="M464.68 909.05h0M676.18 909.05h0M564.47 927.24h0M775.97 927.24h0M476.41 903.72h0M687.91 903.72h0M408.06 918.3h0M619.56 918.3h0M502.22 864h0M713.72 864h0M388.91 958.58h0M600.41 958.58h0M388.18 860.78h0M599.68 860.78h0M515.66 1009.11h0M727.16 1009.11h0M576.73 830.81h0M788.23 830.81h0M507.3 898.27h0M718.8 898.27h0M402.31 1014.3h0M613.81 1014.3h0M480.75 1005.69h0M692.25 1005.69h0M409.23 970.46h0M620.73 970.46h0M375.36 927.57h0M586.86 927.57h0M462.17 854.44h0M673.67 854.44h0M478.79 893.5h0M690.29 893.5h0M474.7 889.21h0M686.2 889.21h0M465.73 963.46h0M677.23 963.46h0M580 824.83h0M546.71 880.45h0M758.21 880.45h0M435.68 972.83h0M647.18 972.83h0M430.13 1003.63h0M641.63 1003.63h0M531.07 939.84h0M742.57 939.84h0M548.05 942.53h0M759.55 942.53h0M571.63 853.5h0M783.13 853.5h0M580.62 976.68h0M561.52 926.4h0M773.02 926.4h0M576.35 940.42h0M787.85 940.42h0M384.45 895.59h0M595.95 895.59h0M533.66 965.08h0M745.16 965.08h0M387.43 952.94h0M598.93 952.94h0M572.9 870.75h0M784.4 870.75h0M393.96 969.6h0M605.46 969.6h0M390.37 1005.63h0M601.87 1005.63h0M537.57 982.87h0M749.07 982.87h0M487.29 930.76h0M698.79 930.76h0M409.33 875.8h0M620.83 875.8h0M396.7 892.83h0M608.2 892.83h0M393.64 935.91h0M605.14 935.91h0M414.02 965.08h0M625.52 965.08h0M574.35 861.98h0M785.85 861.98h0M433.33 846.24h0M644.83 846.24h0M413.57 941.03h0M625.07 941.03h0M549.7 893.2h0M761.2 893.2h0M390.22 826.07h0M601.72 826.07h0M414.1 967.3h0M625.6 967.3h0M532.42 953.65h0M743.92 953.65h0M431.67 1003.02h0M643.17 1003.02h0M388.06 904.62h0M599.56 904.62h0M420.4 901.03h0M631.9 901.03h0M447.62 929.64h0M659.12 929.64h0M571.86 923.74h0M783.36 923.74h0M490.52 849.79h0M702.02 849.79h0M407.67 987.42h0M619.17 987.42h0M561.13 859.2h0M772.63 859.2h0M421.77 980.53h0M633.27 980.53h0M525.39 835.51h0M736.89 835.51h0M410.58 833.63h0M622.08 833.63h0M555.58 900.6h0M767.08 900.6h0M458.14 997.14h0M669.64 997.14h0M377.18 831.21h0M588.68 831.21h0M419.42 881.08h0M630.92 881.08h0M423.35 858.06h0M634.85 858.06h0M495.15 960.51h0M706.65 960.51h0M406.1 878.03h0M617.6 878.03h0M383.55 973.07h0M595.05 973.07h0M487.31 852.52h0M698.81 852.52h0M498.93 963.06h0M710.43 963.06h0M563.02 977.79h0M774.52 977.79h0M372.51 965.19h0M584.01 965.19h0M463.27 1005.52h0M674.77 1005.52h0M406.28 945.95h0M617.78 945.95h0M490.01 991.78h0M701.51 991.78h0M445.59 845.07h0M657.09 845.07h0M576.37 890.28h0M787.87 890.28h0M515.19 904.29h0M726.69 904.29h0M398.68 1010.42h0M610.18 1010.42h0M372.78 841.35h0M584.28 841.35h0M517.26 831.19h0M728.76 831.19h0M373.5 894.29h0M585 894.29h0M470.99 876.07h0M682.49 876.07h0M436.45 824.12h0M647.95 824.12h0M384.92 911.69h0M596.42 911.69h0M524.88 843.28h0M736.38 843.28h0M524.89 881.25h0M736.39 881.25h0M536.78 840.42h0M748.28 840.42h0M443.41 884.83h0M654.91 884.83h0M559.53 848.9h0M771.03 848.9h0M457.23 864.47h0M668.73 864.47h0M551.62 906.53h0M763.12 906.53h0M501.18 943.33h0M712.68 943.33h0M492.24 899.57h0M703.74 899.57h0M385.96 893.67h0M597.46 893.67h0M579.09 847.22h0M790.59 847.22h0M523.02 942.15h0M734.52 942.15h0M524.46 904.96h0M735.96 904.96h0M462.17 855.23h0M673.67 855.23h0M386.72 872.26h0M598.22 872.26h0M375.3 901.03h0M586.8 901.03h0M470.72 972.72h0M682.22 972.72h0M516.7 921.13h0M728.2 921.13h0M498.97 839.37h0M710.47 839.37h0M423.11 1015.02h0M634.61 1015.02h0M432.67 886.18h0M644.17 886.18h0M411.84 984.43h0M623.34 984.43h0M560.56 889.69h0M772.06 889.69h0M462.47 844.92h0M673.97 844.92h0M438.15 888.55h0M649.65 888.55h0M410.98 933.95h0M622.48 933.95h0M539.47 840.57h0M750.97 840.57h0M555.18 1042.69h0M766.68 1042.69h0M492.33 1045.5h0M703.83 1045.5h0M397.8 1038.05h0M609.3 1038.05h0M546.05 1023.46h0M757.55 1023.46h0M519.42 1019.27h0M730.92 1019.27h0M427.54 1051.6h0M639.04 1051.6h0M464.31 1047.21h0M675.81 1047.21h0M414.28 1041.46h0M625.78 1041.46h0M501.34 1038.15h0M712.84 1038.15h0M435.7 1023.86h0M647.2 1023.86h0M576.7 1039.87h0M788.2 1039.87h0M384.79 1057.3h0M596.29 1057.3h0M553.6 1105.52h0M765.1 1105.52h0M377.77 1105.52h0M589.27 1105.52h0M518.88 1105.52h0M730.38 1105.52h0M489.68 1105.52h0M701.18 1105.52h0M434.36 1105.52h0M645.86 1105.52h0M536.41 1105.52h0M747.91 1105.52h0M373.04 1105.52h0M584.54 1105.52h0M397.74 1105.52h0M609.24 1105.52h0M465.2 1105.52h0M676.7 1105.52h0M374.23 1105.52h0M585.73 1105.52h0M544.47 1105.52h0M755.97 1105.52h0M419.21 1105.52h0M630.71 1105.52h0M398.79 1105.52h0M610.29 1105.52h0M378.93 1105.52h0M590.43 1105.52h0M502.07 1105.52h0M713.57 1105.52h0M463.43 1105.52h0M674.93 1105.52h0M502.24 1105.52h0M713.74 1105.52h0M507.54 1105.52h0M719.04 1105.52h0M539.76 1105.52h0M751.26 1105.52h0M571.71 1105.52h0M783.21 1105.52h0M513.77 1105.52h0M725.27 1105.52h0M411.16 1105.52h0M622.66 1105.52h0M469.49 1105.52h0M680.99 1105.52h0M406.79 1105.52h0M618.29 1105.52h0M371.28 1105.52h0M582.78 1105.52h0M468.87 1105.52h0M680.37 1105.52h0M520.05 1105.52h0M731.55 1105.52h0M406.88 1105.52h0M618.38 1105.52h0M426.6 1105.52h0M638.1 1105.52h0M442.12 1105.52h0M653.62 1105.52h0M516.48 1105.52h0M727.98 1105.52h0M479.07 1105.52h0M690.57 1105.52h0M498.96 1088.5h0M710.46 1088.5h0M528.94 1088.5h0M740.44 1088.5h0M452.23 1088.5h0M663.73 1088.5h0M536.49 1088.5h0M747.99 1088.5h0M560.67 1088.5h0M772.17 1088.5h0M387.44 1088.5h0M598.94 1088.5h0M566.25 1088.5h0M777.75 1088.5h0M521.78 1088.5h0M733.28 1088.5h0M396.48 1088.5h0M607.98 1088.5h0M464.92 1088.5h0M676.42 1088.5h0M501.3 1088.5h0M712.8 1088.5h0M561.46 1088.5h0M772.96 1088.5h0M448.69 1088.5h0M660.19 1088.5h0M489.3 1088.5h0M700.8 1088.5h0M554.98 1088.5h0M766.48 1088.5h0M537.52 1088.5h0M749.02 1088.5h0M568.71 1072.4h0M780.21 1072.4h0M467.07 1072.4h0M678.57 1072.4h0M506.75 1072.4h0M718.25 1072.4h0M412.34 1072.4h0M623.84 1072.4h0M521.69 1072.4h0M733.19 1072.4h0M542.08 1072.4h0M753.58 1072.4h0M504.7 1072.4h0M716.2 1072.4h0M520.79 1072.4h0M732.29 1072.4h0M414.11 1072.4h0M625.61 1072.4h0M559.35 1072.4h0M770.85 1072.4h0M576.37 1056.3h0M787.87 1056.3h0M575.71 1056.3h0M787.21 1056.3h0M482.57 1056.3h0M694.07 1056.3h0M536.25 1056.3h0M747.75 1056.3h0M436.76 1056.3h0M648.26 1056.3h0M561.46 1056.3h0M772.96 1056.3h0M550 1056.3h0M761.5 1056.3h0" stroke="#a2a2a2" stroke-width="2.2" stroke-linecap="round" fill="none"/>
<path d="M454.77 955.55h0M666.27 955.55h0M482.2 899.84h0M693.7 899.84h0M430.12 897.03h0M641.62 897.03h0M492 876.83h0M703.5 876.83h0M495.18 1004.45h0M706.68 1004.45h0M449.78 919.76h0M661.28 919.76h0M486.19 944.69h0M697.69 944.69h0M437.4 846.11h0M648.9 846.11h0M432.96 953.53h0M644.46 953.53h0M573.68 946.32h0M785.18 946.32h0M491.54 992.78h0M703.04 992.78h0M565.32 958.39h0M776.82 958.39h0M479.2 884.66h0M690.7 884.66h0M434.11 860.64h0M645.61 860.64h0M371.74 950.52h0M583.24 950.52h0M462.34 985.7h0M673.84 985.7h0M485.33 956.28h0M696.83 956.28h0M459.43 969.92h0M670.93 969.92h0M504.9 944.47h0M716.4 944.47h0M541.48 909.17h0M752.98 909.17h0M458.04 857.37h0M669.54 857.37h0M540.09 949.06h0M751.59 949.06h0M408.93 946.73h0M620.43 946.73h0M477.36 1005.21h0M688.86 1005.21h0M551.85 993.99h0M763.35 993.99h0M491.47 973.2h0M702.97 973.2h0M390.88 954.87h0M602.38 954.87h0M428.28 865.76h0M639.78 865.76h0M460.18 959.97h0M671.68 959.97h0M378.88 895.53h0M590.38 895.53h0M515.71 969.73h0M727.21 969.73h0M501.6 920.44h0M713.1 920.44h0M527.74 874.8h0M739.24 874.8h0M529.82 869.82h0M741.32 869.82h0M534.89 949.21h0M746.39 949.21h0M499.17 840.89h0M710.67 840.89h0M503.93 961.46h0M715.43 961.46h0M505.79 866.13h0M717.29 866.13h0M506.32 961.02h0M717.82 961.02h0M488.96 844.5h0M700.46 844.5h0M507.31 990.61h0M718.81 990.61h0M396.22 995.24h0M607.72 995.24h0M490.42 977.81h0M701.92 977.81h0M490.23 965.28h0M701.73 965.28h0M485.8 928.11h0M697.3 928.11h0M440.1 984.83h0M651.6 984.83h0M548.75 976.21h0M760.25 976.21h0M409.97 958.22h0M621.47 958.22h0M446.88 838.8h0M658.38 838.8h0M577.92 934.76h0M789.42 934.76h0M470.57 993.17h0M682.07 993.17h0M477.12 966.15h0M688.62 966.15h0M478.67 939.09h0M690.17 939.09h0M513.36 979.75h0M724.86 979.75h0M500.96 950.59h0M712.46 950.59h0M504.83 932.01h0M716.33 932.01h0M579.31 900.75h0M790.81 900.75h0M445.5 935.23h0M657 935.23h0M398.42 918.74h0M609.92 918.74h0M460.35 963.15h0M671.85 963.15h0M525.15 982.82h0M736.65 982.82h0M527.11 966.3h0M738.61 966.3h0M462.82 853.43h0M674.32 853.43h0M522.98 962.21h0M734.48 962.21h0M539.31 991.84h0M750.81 991.84h0M514.21 899.4h0M725.71 899.4h0M497.05 949.12h0M708.55 949.12h0M441.52 949.08h0M653.02 949.08h0M421.3 905.2h0M632.8 905.2h0M480.88 893.06h0M692.38 893.06h0M458.72 961.54h0M670.22 961.54h0M493.04 945.02h0M704.54 945.02h0M436.1 891.84h0M647.6 891.84h0M489.47 903.44h0M700.97 903.44h0M525 910h0M736.5 910h0M407.59 899.08h0M619.09 899.08h0M421.82 929.97h0M633.32 929.97h0M517.35 887.69h0M728.85 887.69h0M575.88 956.03h0M787.38 956.03h0M522.9 945.39h0M734.4 945.39h0M503.29 909.48h0M714.79 909.48h0M469.76 902.53h0M681.26 902.53h0M428.28 965.05h0M639.78 965.05h0M426.28 954.31h0M637.78 954.31h0M384.63 967.8h0M596.13 967.8h0M518.39 968.99h0M729.89 968.99h0M436.08 955.62h0M647.58 955.62h0M485.47 868.56h0M696.97 868.56h0M495.29 967.67h0M706.79 967.67h0M563.6 956.38h0M775.1 956.38h0M453.46 930.26h0M664.96 930.26h0M487.04 875.95h0M698.54 875.95h0M413.51 966.25h0M625.01 966.25h0M490.78 855.59h0M702.28 855.59h0M525.26 949.43h0M736.76 949.43h0M488.41 843.81h0M699.91 843.81h0M464.73 942.06h0M676.23 942.06h0M527.04 956.46h0M738.54 956.46h0M528.49 973h0M739.99 973h0M491.88 950.51h0M703.38 950.51h0M474.21 834.87h0M685.71 834.87h0M374.32 930.26h0M585.82 930.26h0M467.85 835.98h0M679.35 835.98h0M499.99 955.94h0M711.49 955.94h0M459.13 929.56h0M670.63 929.56h0M514.64 844.69h0M726.14 844.69h0M465.26 1007.42h0M676.76 1007.42h0M519.99 961h0M731.49 961h0M497.17 970.02h0M708.67 970.02h0M468.72 849.69h0M680.22 849.69h0M506.71 888h0M718.21 888h0M467.92 950.04h0M679.42 950.04h0M533.41 938.32h0M744.91 938.32h0M535.74 933.17h0M747.24 933.17h0M545.93 957.38h0M757.43 957.38h0M523.91 949.47h0M735.41 949.47h0M438.72 931.72h0M650.22 931.72h0M447.63 926.89h0M659.13 926.89h0M460.13 976.77h0M671.63 976.77h0M545.86 918.38h0M757.36 918.38h0M552.19 880.06h0M763.69 880.06h0M528.17 893.34h0M739.67 893.34h0M526.72 936.19h0M738.22 936.19h0M439.32 841.17h0M650.82 841.17h0M506.3 954.02h0M717.8 954.02h0M371.81 970.54h0M583.31 970.54h0M498.35 966.1h0M709.85 966.1h0M462.65 987.91h0M674.15 987.91h0M560.76 960.66h0M772.26 960.66h0M520.69 921.12h0M732.19 921.12h0M536.16 959.83h0M747.66 959.83h0M545.62 959.89h0M757.12 959.89h0M454.37 905.87h0M665.87 905.87h0M506.5 953.96h0M718 953.96h0M417.6 961.2h0M629.1 961.2h0M517.42 964.53h0M728.92 964.53h0M440.46 866.63h0M651.96 866.63h0M494.54 983.44h0M706.04 983.44h0M495.21 1026.51h0M706.71 1026.51h0M454.48 872.19h0M665.98 872.19h0M460.63 829.44h0M672.13 829.44h0M429.56 832.4h0M641.06 832.4h0M529.09 969.47h0M740.59 969.47h0M569.25 931.95h0M780.75 931.95h0M384.6 927.48h0M596.1 927.48h0M548.26 986.99h0M759.76 986.99h0M468.81 964.5h0M680.31 964.5h0M427.95 951.34h0M639.45 951.34h0M462.93 880.49h0M674.43 880.49h0M452.57 928.81h0M664.07 928.81h0M411.06 956.36h0M622.56 956.36h0M391.56 966.57h0M603.06 966.57h0M401.22 929.95h0M612.72 929.95h0M484.43 865.85h0M695.93 865.85h0M478.28 941.6h0M689.78 941.6h0M433.24 925.77h0M644.74 925.77h0M531.39 944.69h0M742.89 944.69h0M495.22 983.91h0M706.72 983.91h0M499.22 947.35h0M710.72 947.35h0M527.43 967.66h0M738.93 967.66h0M482.3 912.7h0M693.8 912.7h0M540.74 1011.95h0M752.24 1011.95h0M473.93 946.41h0M685.43 946.41h0M546.22 946.67h0M757.72 946.67h0M485.53 935.74h0M697.03 935.74h0M524.96 962.39h0M736.46 962.39h0M566.99 947.79h0M778.49 947.79h0M417.72 937.56h0M629.22 937.56h0M540.2 964.83h0M751.7 964.83h0M443.07 930.11h0M654.57 930.11h0M557.43 939.69h0M768.93 939.69h0M388.78 936.85h0M600.28 936.85h0M522.19 906.38h0M733.69 906.38h0M479.59 947.05h0M691.09 947.05h0M456.19 932.97h0M667.69 932.97h0M431.99 959.35h0M643.49 959.35h0M522.16 961.71h0M733.66 961.71h0M515.12 975.12h0M726.62 975.12h0M445.04 839.08h0M656.54 839.08h0M455.76 852.16h0M667.26 852.16h0M522.79 1000.75h0M734.29 1000.75h0M409.64 947.44h0M621.14 947.44h0M388.66 974.3h0M600.16 974.3h0M496.35 960.19h0M707.85 960.19h0M421.26 949.1h0M632.76 949.1h0M414.19 949.57h0M625.69 949.57h0M479.91 965.05h0M691.41 965.05h0M537.86 951.13h0M749.36 951.13h0M435.12 903.85h0M646.62 903.85h0M448.42 996.86h0M659.92 996.86h0M388.51 957.51h0M600.01 957.51h0M416.97 969.66h0M628.47 969.66h0M440.81 960.26h0M652.31 960.26h0M505.79 913.23h0M717.29 913.23h0M472.84 997.72h0M684.34 997.72h0M490.06 963.82h0M701.56 963.82h0M373.89 881.38h0M585.39 881.38h0M498.52 953.16h0M710.02 953.16h0M461.72 837.01h0M673.22 837.01h0M501.69 965.64h0M713.19 965.64h0M543.58 900.8h0M755.08 900.8h0M486.15 939.85h0M697.65 939.85h0M428.62 930.37h0M640.12 930.37h0M487.35 957.64h0M698.85 957.64h0M490.6 908.42h0M702.1 908.42h0M458.49 890.67h0M669.99 890.67h0M519.68 835.06h0M731.18 835.06h0M502.82 925.4h0M714.32 925.4h0M517.53 966.63h0M729.03 966.63h0M432.64 1010.27h0M644.14 1010.27h0M484.09 870.19h0M695.59 870.19h0M446.66 887.76h0M658.16 887.76h0M449.59 963.51h0M661.09 963.51h0M535.78 923.52h0M747.28 923.52h0M507.62 897.59h0M719.12 897.59h0M499.16 975.3h0M710.66 975.3h0M565.98 987.3h0M777.48 987.3h0M501.49 829.01h0M712.99 829.01h0M511.67 1002.07h0M723.17 1002.07h0M568.09 974.82h0M779.59 974.82h0M487.07 946.34h0M698.57 946.34h0M445.02 910.83h0M656.52 910.83h0M477.49 909.55h0M688.99 909.55h0M426.91 856.15h0M638.41 856.15h0M415.86 991.77h0M627.36 991.77h0M499.76 958.06h0M711.26 958.06h0M440.22 979.75h0M651.72 979.75h0M399.77 939.1h0M611.27 939.1h0M545.03 946.1h0M756.53 946.1h0M390.86 916.07h0M602.36 916.07h0M512.48 1006.39h0M723.98 1006.39h0M402.26 927.59h0M613.76 927.59h0M535.27 924.31h0M746.77 924.31h0M477.64 942.33h0M689.14 942.33h0M499.1 962.21h0M710.6 962.21h0M529.24 925.97h0M740.74 925.97h0M542.73 1000.28h0M754.23 1000.28h0M435.88 913.97h0M647.38 913.97h0M399.22 959.95h0M610.72 959.95h0M487.49 956.03h0M698.99 956.03h0M437.81 948.05h0M649.31 948.05h0M512.51 950.88h0M724.01 950.88h0M456.19 939.39h0M667.69 939.39h0M501.23 931.19h0M712.73 931.19h0M550.27 920.42h0M761.77 920.42h0M423.11 922.32h0M634.61 922.32h0M473.12 953.7h0M684.62 953.7h0M482.25 922.56h0M693.75 922.56h0M509.04 995.35h0M720.54 995.35h0M514.41 902.59h0M725.91 902.59h0M533.25 834.88h0M744.75 834.88h0M495.81 980.58h0M707.31 980.58h0M450.88 956.06h0M662.38 956.06h0M429.34 936.29h0M640.84 936.29h0M531.02 946.36h0M742.52 946.36h0M531.84 872.88h0M743.34 872.88h0M525.76 961.5h0M737.26 961.5h0M508.62 976.25h0M720.12 976.25h0M508.26 931.75h0M719.76 931.75h0M467.92 964.2h0M679.42 964.2h0M448 932.35h0M659.5 932.35h0M516.58 1008.33h0M728.08 1008.33h0M500.94 939.19h0M712.44 939.19h0M515.08 960.78h0M726.58 960.78h0M501.89 887.15h0M713.39 887.15h0M495.08 949.91h0M706.58 949.91h0M499.92 891.66h0M711.42 891.66h0M516.41 851.14h0M727.91 851.14h0M502.22 997.18h0M713.72 997.18h0M481.16 950.23h0M692.66 950.23h0M445.3 979.65h0M656.8 979.65h0M472.52 870.91h0M684.02 870.91h0M483.2 898.95h0M694.7 898.95h0M463.8 926.35h0M675.3 926.35h0M552.63 921.73h0M764.13 921.73h0M486.26 916.72h0M697.76 916.72h0M580.4 945.3h0M791.9 945.3h0M524.07 995.59h0M735.57 995.59h0M498.97 857.69h0M710.47 857.69h0M416.86 935.93h0M628.36 935.93h0M504.68 929.67h0M716.18 929.67h0M520.94 995.35h0M732.44 995.35h0M489.32 983.56h0M700.82 983.56h0M483.56 934.23h0M695.06 934.23h0M485.94 893.12h0M697.44 893.12h0M386.17 955.26h0M597.67 955.26h0M487.53 907.21h0M699.03 907.21h0M512.21 974.75h0M723.71 974.75h0M453.12 907.81h0M664.62 907.81h0M468.8 971.69h0M680.3 971.69h0M460.49 906.37h0M671.99 906.37h0M502.96 887.68h0M714.46 887.68h0M513.64 960h0M725.14 960h0M459.67 973.98h0M671.17 973.98h0M390.54 924.29h0M602.04 924.29h0M402.44 957.99h0M613.94 957.99h0M516.87 1023.52h0M728.37 1023.52h0M457.85 917.31h0M669.35 917.31h0M489.08 937.05h0M700.58 937.05h0M443.31 886.54h0M654.81 886.54h0M471.73 935.85h0M683.23 935.85h0M528.73 945.65h0M740.23 945.65h0M496.7 900.44h0M708.2 900.44h0M494.88 938.18h0M706.38 938.18h0M518.18 1017.44h0M729.68 1017.44h0M523.87 862.64h0M735.37 862.64h0M478.3 959.33h0M689.8 959.33h0M415.81 936.37h0M627.31 936.37h0M533.49 934.83h0M744.99 934.83h0M467.05 905.06h0M678.55 905.06h0M475.26 897.66h0M686.76 897.66h0M482.24 961.91h0M693.74 961.91h0M559.26 924.72h0M770.76 924.72h0M407.67 991.04h0M619.17 991.04h0M455.91 954.04h0M667.41 954.04h0M475.8 889.02h0M687.3 889.02h0M495.63 950.13h0M707.13 950.13h0M449.8 929.54h0M661.3 929.54h0M529.42 923.08h0M740.92 923.08h0M495.56 885.43h0M707.06 885.43h0M392.95 918.7h0M604.45 918.7h0M424.71 872.55h0M636.21 872.55h0M527.18 956.11h0M738.68 956.11h0M422.08 905.9h0M633.58 905.9h0M515.13 838.96h0M726.63 838.96h0M548.45 966.63h0M759.95 966.63h0M485.38 966.49h0M696.88 966.49h0M485.64 965.58h0M697.14 965.58h0M492.15 951.51h0M703.65 951.51h0M527.76 978.13h0M739.26 978.13h0M527.39 962.17h0M738.89 962.17h0M559.43 926.17h0M770.93 926.17h0M553.85 841.22h0M765.35 841.22h0M539.64 934.59h0M751.14 934.59h0M465.9 988.08h0M677.4 988.08h0M531.45 993.21h0M742.95 993.21h0M486.79 968.53h0M698.29 968.53h0M574.32 1001.55h0M785.82 1001.55h0M523.24 830.44h0M734.74 830.44h0M551.38 994.58h0M762.88 994.58h0M518.64 904.66h0M730.14 904.66h0M495.33 1008.49h0M706.83 1008.49h0M552.64 982.07h0M764.14 982.07h0M489.98 909.27h0M701.48 909.27h0M408.4 834.73h0M619.9 834.73h0M458.49 984.26h0M669.99 984.26h0M503.32 950.96h0M714.82 950.96h0M451.93 1007.08h0M663.43 1007.08h0M492.85 967.03h0M704.35 967.03h0M446.87 943.53h0M658.37 943.53h0M408.4 821.24h0M619.9 821.24h0M422.9 824h0M634.4 824h0M424.9 821.24h0M636.4 821.24h0M432.9 821.24h0M644.4 821.24h0M449.2 821.24h0M660.7 821.24h0M471.8 820.32h0M683.3 820.32h0M491.3 824h0M702.8 824h0M499.4 824h0M710.9 824h0M566 824h0M777.5 824h0M425.5 1083.9h0M637 1083.9h0" stroke="#0000ff" stroke-width="7" stroke-linecap="round" fill="none"/>
<path d="M429.65 985.87h0M641.15 985.87h0M559.92 973.5h0M771.42 973.5h0M431.24 926.21h0M642.74 926.21h0M580.37 1007.61h0M791.87 1007.61h0M557.07 957.4h0M768.57 957.4h0M534.56 945.69h0M746.06 945.69h0M515.36 1005.7h0M726.86 1005.7h0M423.68 906.86h0M635.18 906.86h0M568.4 941h0M779.9 941h0M392.66 913.94h0M604.16 913.94h0M515.25 1002.55h0M726.75 1002.55h0M371.61 1005.7h0M583.11 1005.7h0M398.93 955.92h0M610.43 955.92h0M559.73 936.19h0M771.23 936.19h0M373.36 941.79h0M584.86 941.79h0M401.86 964.97h0M613.36 964.97h0M572.88 944.67h0M784.38 944.67h0M410.51 938.16h0M622.01 938.16h0M496.63 1006.23h0M708.13 1006.23h0M411.58 973.5h0M623.08 973.5h0M544.76 1005.7h0M756.26 1005.7h0M372.67 957.4h0M584.17 957.4h0M542.67 980.07h0M754.17 980.07h0M503.52 963.57h0M715.02 963.57h0M438.6 908.57h0M650.1 908.57h0M523.88 1006.31h0M735.38 1006.31h0M433.63 973.5h0M645.13 973.5h0M392.79 992.02h0M604.29 992.02h0M573.65 1005.7h0M785.15 1005.7h0M461.7 957.4h0M673.2 957.4h0M516.79 940.1h0M728.29 940.1h0M511.19 930.91h0M722.69 930.91h0M555.89 921.61h0M767.39 921.61h0M537.44 957.4h0M748.94 957.4h0M559.39 1005.7h0M770.89 1005.7h0M563.63 907.36h0M775.13 907.36h0M562.33 911.36h0M773.83 911.36h0M556.58 973.5h0M768.08 973.5h0M514.84 953.33h0M726.34 953.33h0M575.48 1018.72h0M786.98 1018.72h0M578.69 1005.76h0M790.19 1005.76h0M566.19 971.19h0M777.69 971.19h0M381.23 946.9h0M592.73 946.9h0M537.4 957.4h0M748.9 957.4h0M482.12 973.5h0M693.62 973.5h0M549.13 957.4h0M760.63 957.4h0M456.24 950.54h0M667.74 950.54h0M494.87 928.98h0M706.37 928.98h0M551.77 957.4h0M763.27 957.4h0M530.98 1015.13h0M742.48 1015.13h0M520.5 1005.27h0M732 1005.27h0M444.12 1005.7h0M655.62 1005.7h0M537.48 957.4h0M748.98 957.4h0M432.08 934.79h0M643.58 934.79h0M548.95 952.21h0M760.45 952.21h0M569.94 939.1h0M781.44 939.1h0M408 1028.23h0M619.5 1028.23h0M463.75 964.05h0M675.25 964.05h0M548.15 957.4h0M759.65 957.4h0M523.46 937.06h0M734.96 937.06h0M463.39 973.5h0M674.89 973.5h0M534.59 951.89h0M746.09 951.89h0M538.85 973.5h0M750.35 973.5h0M510.24 1005.7h0M721.74 1005.7h0M396.55 922.21h0M608.05 922.21h0M481.57 1005.7h0M693.07 1005.7h0M559.47 961.12h0M770.97 961.12h0M450.66 957.4h0M662.16 957.4h0M502.29 989.64h0M713.79 989.64h0M478.6 958.37h0M690.1 958.37h0M515.3 905.31h0M726.8 905.31h0M505.36 964.9h0M716.86 964.9h0M575.65 959.79h0M787.15 959.79h0M436.26 939.74h0M647.76 939.74h0M538.44 957.4h0M749.94 957.4h0M541.31 939.23h0M752.81 939.23h0M567.24 945.58h0M778.74 945.58h0M504.22 947.77h0M715.72 947.77h0M527.65 955.14h0M739.15 955.14h0M568.32 963.85h0M779.82 963.85h0M570.27 957.4h0M781.77 957.4h0M406.02 916.12h0M617.52 916.12h0M558.22 990.3h0M769.72 990.3h0M538.08 940.71h0M749.58 940.71h0M553.36 987.14h0M764.86 987.14h0M557.66 999.41h0M769.16 999.41h0M374.28 973.5h0M585.78 973.5h0M565.46 1005.7h0M776.96 1005.7h0M380.2 973.5h0M591.7 973.5h0M538.6 909.35h0M750.1 909.35h0M548.06 973.5h0M759.56 973.5h0M514.42 945.91h0M725.92 945.91h0M552.12 1004.4h0M763.62 1004.4h0M396.7 1005.7h0M608.2 1005.7h0M565.21 973.5h0M776.71 973.5h0M541.25 908.91h0M752.75 908.91h0M485.03 974.07h0M696.53 974.07h0M380.86 957.4h0M592.36 957.4h0M373.98 918.3h0M585.48 918.3h0M370.44 1018.18h0M581.94 1018.18h0M463.01 957.4h0M674.51 957.4h0M475.61 1005.7h0M687.11 1005.7h0M471.38 1025.29h0M682.88 1025.29h0M455.19 922.82h0M666.69 922.82h0M480.21 952.89h0M691.71 952.89h0M545.26 961.45h0M756.76 961.45h0M517.46 946.78h0M728.96 946.78h0M425.71 1011.43h0M637.21 1011.43h0M542.23 980.63h0M753.73 980.63h0M547.95 957.4h0M759.45 957.4h0M536.51 907.36h0M748.01 907.36h0M372.48 920.25h0M583.98 920.25h0M479.85 939.36h0M691.35 939.36h0M566.59 998.27h0M778.09 998.27h0M391.03 923.97h0M602.53 923.97h0M532.31 995.53h0M743.81 995.53h0M541.26 957.4h0M752.76 957.4h0M533.01 1026.95h0M744.51 1026.95h0M412.33 963.51h0M623.83 963.51h0M525.53 966.15h0M737.03 966.15h0M548.89 1030.37h0M760.39 1030.37h0M385.94 1027.99h0M597.44 1027.99h0M570.93 973.5h0M782.43 973.5h0M546.87 937.49h0M758.37 937.49h0M507.51 986.29h0M719.01 986.29h0M523.65 1002.34h0M735.15 1002.34h0M539.13 1005.7h0M750.63 1005.7h0M562.18 915.9h0M773.68 915.9h0M506.02 973.5h0M717.52 973.5h0M503.39 1030.49h0M714.89 1030.49h0M486.45 990.8h0M697.95 990.8h0M404.25 947.62h0M615.75 947.62h0M428.07 972.93h0M639.57 972.93h0M371.67 944.74h0M583.17 944.74h0M563.03 973.9h0M774.53 973.9h0M385.39 1030.48h0M596.89 1030.48h0M497.12 1015.43h0M708.62 1015.43h0M566.93 1005.7h0M778.43 1005.7h0M385.93 973.5h0M597.43 973.5h0M529.39 991.69h0M740.89 991.69h0M502.59 1019.68h0M714.09 1019.68h0M481.93 918.73h0M693.43 918.73h0M537.35 998.49h0M748.85 998.49h0M491.77 937.59h0M703.27 937.59h0M478.28 950.06h0M689.78 950.06h0M402.75 912.59h0M614.25 912.59h0M576.84 926.51h0M788.34 926.51h0M579.06 943.05h0M790.56 943.05h0M561.55 934.04h0M773.05 934.04h0M525.96 973.51h0M737.46 973.51h0M458.15 973.5h0M669.65 973.5h0M566.21 999.15h0M777.71 999.15h0M409.17 992.11h0M620.67 992.11h0M369.01 1024.96h0M580.51 1024.96h0M575.39 1017.83h0M786.89 1017.83h0M520.19 906.73h0M731.69 906.73h0M473.3 985.31h0M684.8 985.31h0M540.34 940.22h0M751.84 940.22h0M540.49 1023.38h0M751.99 1023.38h0M546.27 940.18h0M757.77 940.18h0M383.6 945.46h0M595.1 945.46h0M536.17 1008.44h0M747.67 1008.44h0M372.23 1028.03h0M583.73 1028.03h0M525.91 945.47h0M737.41 945.47h0M392.56 943.27h0M604.06 943.27h0M536.27 939.92h0M747.77 939.92h0M561.22 973.5h0M772.72 973.5h0M462.08 957.4h0M673.58 957.4h0M391.66 939.35h0M603.16 939.35h0M474.13 957.4h0M685.63 957.4h0M573.22 1005.7h0M784.72 1005.7h0M567.05 972.88h0M778.55 972.88h0M385.2 953.64h0M596.7 953.64h0M514.16 973.5h0M725.66 973.5h0M381.49 973.5h0M592.99 973.5h0M576.96 1018.58h0M788.46 1018.58h0M518.53 1005.7h0M730.03 1005.7h0M394.1 1011.23h0M605.6 1011.23h0M522.7 973.5h0M734.2 973.5h0M530.73 973.5h0M742.23 973.5h0M539.24 906.27h0M750.74 906.27h0M477.91 911.58h0M689.41 911.58h0M511.97 940.84h0M723.47 940.84h0M447.28 1006.4h0M658.78 1006.4h0M557.05 950.17h0M768.55 950.17h0M511.67 1006.36h0M723.17 1006.36h0M519.09 1005.7h0M730.59 1005.7h0M574.94 986.74h0M786.44 986.74h0M549.06 943.55h0M760.56 943.55h0M505.04 1005.7h0M716.54 1005.7h0M543.17 981.44h0M754.67 981.44h0M550.1 988.95h0M761.6 988.95h0M469.12 907.22h0M680.62 907.22h0M497.55 989.11h0M709.05 989.11h0M372.59 967.49h0M584.09 967.49h0M488.48 1005.7h0M699.98 1005.7h0M463.88 1019.25h0M675.38 1019.25h0M484.5 1009.75h0M696 1009.75h0M524.31 957.4h0M735.81 957.4h0M374.94 973.5h0M586.44 973.5h0M375.3 1088.96h0M586.8 1088.96h0M392 1088.96h0M603.5 1088.96h0M381.5 1099.08h0M593 1099.08h0M390.3 1100.46h0M601.8 1100.46h0M392 1105.52h0M603.5 1105.52h0M560.6 1081.6h0M772.1 1081.6h0M575.7 1105.52h0M787.2 1105.52h0" stroke="#ff0000" stroke-width="7" stroke-linecap="round" fill="none"/>
<line x1="407.43" y1="1123" x2="407.43" y2="1116.5" stroke="#3c3c3c" stroke-width="1.4"/>
<line x1="407.43" y1="778" x2="407.43" y2="784.5" stroke="#3c3c3c" stroke-width="1.4"/>
<text x="406.43" y="1166.2" font-size="30.5" text-anchor="middle" font-weight="normal" fill="#3c3c3c">-2</text>
<line x1="474.75" y1="1123" x2="474.75" y2="1116.5" stroke="#3c3c3c" stroke-width="1.4"/>
<line x1="474.75" y1="778" x2="474.75" y2="784.5" stroke="#3c3c3c" stroke-width="1.4"/>
<text x="473.75" y="1166.2" font-size="30.5" text-anchor="middle" font-weight="normal" fill="#3c3c3c">0</text>
<line x1="542.07" y1="1123" x2="542.07" y2="1116.5" stroke="#3c3c3c" stroke-width="1.4"/>
<line x1="542.07" y1="778" x2="542.07" y2="784.5" stroke="#3c3c3c" stroke-width="1.4"/>
<text x="541.07" y="1166.2" font-size="30.5" text-anchor="middle" font-weight="normal" fill="#3c3c3c">2</text>
<line x1="609.4" y1="1123" x2="609.4" y2="1116.5" stroke="#3c3c3c" stroke-width="1.4"/>
<line x1="609.4" y1="778" x2="609.4" y2="784.5" stroke="#3c3c3c" stroke-width="1.4"/>
<text x="608.4" y="1166.2" font-size="30.5" text-anchor="middle" font-weight="normal" fill="#3c3c3c">4</text>
<line x1="676.72" y1="1123" x2="676.72" y2="1116.5" stroke="#3c3c3c" stroke-width="1.4"/>
<line x1="676.72" y1="778" x2="676.72" y2="784.5" stroke="#3c3c3c" stroke-width="1.4"/>
<text x="675.72" y="1166.2" font-size="30.5" text-anchor="middle" font-weight="normal" fill="#3c3c3c">6</text>
<line x1="744.04" y1="1123" x2="744.04" y2="1116.5" stroke="#3c3c3c" stroke-width="1.4"/>
<line x1="744.04" y1="778" x2="744.04" y2="784.5" stroke="#3c3c3c" stroke-width="1.4"/>
<text x="743.04" y="1166.2" font-size="30.5" text-anchor="middle" font-weight="normal" fill="#3c3c3c">8</text>
<line x1="369" y1="1123" x2="375.5" y2="1123" stroke="#3c3c3c" stroke-width="1.4"/>
<line x1="792" y1="1123" x2="785.5" y2="1123" stroke="#3c3c3c" stroke-width="1.4"/>
<text x="355.1" y="1134" font-size="30.5" text-anchor="end" font-weight="normal" fill="#3c3c3c">0</text>
<line x1="804.5" y1="1124.2" x2="808.5" y2="1124.2" stroke="#3c3c3c" stroke-width="1.3"/>
<line x1="920.5" y1="1124.2" x2="916.5" y2="1124.2" stroke="#3c3c3c" stroke-width="1.3"/>
<text x="936.5" y="1135.2" font-size="30.5" text-anchor="start" font-weight="normal" fill="#3c3c3c">0</text>
<line x1="369" y1="1031" x2="375.5" y2="1031" stroke="#3c3c3c" stroke-width="1.4"/>
<line x1="792" y1="1031" x2="785.5" y2="1031" stroke="#3c3c3c" stroke-width="1.4"/>
<text x="355.1" y="1042" font-size="30.5" text-anchor="end" font-weight="normal" fill="#3c3c3c">2</text>
<line x1="804.5" y1="1032.2" x2="808.5" y2="1032.2" stroke="#3c3c3c" stroke-width="1.3"/>
<line x1="920.5" y1="1032.2" x2="916.5" y2="1032.2" stroke="#3c3c3c" stroke-width="1.3"/>
<text x="936.5" y="1043.2" font-size="30.5" text-anchor="start" font-weight="normal" fill="#3c3c3c">2</text>
<line x1="369" y1="939" x2="375.5" y2="939" stroke="#3c3c3c" stroke-width="1.4"/>
<line x1="792" y1="939" x2="785.5" y2="939" stroke="#3c3c3c" stroke-width="1.4"/>
<text x="355.1" y="950" font-size="30.5" text-anchor="end" font-weight="normal" fill="#3c3c3c">4</text>
<line x1="804.5" y1="940.2" x2="808.5" y2="940.2" stroke="#3c3c3c" stroke-width="1.3"/>
<line x1="920.5" y1="940.2" x2="916.5" y2="940.2" stroke="#3c3c3c" stroke-width="1.3"/>
<text x="936.5" y="951.2" font-size="30.5" text-anchor="start" font-weight="normal" fill="#3c3c3c">4</text>
<line x1="369" y1="847" x2="375.5" y2="847" stroke="#3c3c3c" stroke-width="1.4"/>
<line x1="792" y1="847" x2="785.5" y2="847" stroke="#3c3c3c" stroke-width="1.4"/>
<text x="355.1" y="858" font-size="30.5" text-anchor="end" font-weight="normal" fill="#3c3c3c">6</text>
<line x1="804.5" y1="848.2" x2="808.5" y2="848.2" stroke="#3c3c3c" stroke-width="1.3"/>
<line x1="920.5" y1="848.2" x2="916.5" y2="848.2" stroke="#3c3c3c" stroke-width="1.3"/>
<text x="936.5" y="859.2" font-size="30.5" text-anchor="start" font-weight="normal" fill="#3c3c3c">6</text>
<rect x="369" y="778" width="423" height="345" fill="none" stroke="#3c3c3c" stroke-width="1.5"/>
<text x="580.5" y="1209" font-size="30" text-anchor="middle" font-weight="normal" fill="#3c3c3c">phase (rad)</text>
<text x="319.5" y="950.5" font-size="30" text-anchor="middle" font-weight="normal" fill="#3c3c3c" transform="rotate(-90 319.5 950.5)">Firing rate (Hz)</text>
<text x="988" y="953.5" font-size="30" text-anchor="middle" font-weight="normal" fill="#3c3c3c" transform="rotate(-90 988 953.5)">Firing rate (Hz)</text>
<rect x="804.5" y="779.2" width="116" height="345" fill="none" stroke="#3c3c3c" stroke-width="1.5"/>
<line x1="804.5" y1="1124.2" x2="804.5" y2="1120.2" stroke="#3c3c3c" stroke-width="1.3"/>
<line x1="804.5" y1="779.2" x2="804.5" y2="783.2" stroke="#3c3c3c" stroke-width="1.3"/>
<line x1="849.5" y1="1124.2" x2="849.5" y2="1120.2" stroke="#3c3c3c" stroke-width="1.3"/>
<line x1="849.5" y1="779.2" x2="849.5" y2="783.2" stroke="#3c3c3c" stroke-width="1.3"/>
<line x1="894.5" y1="1124.2" x2="894.5" y2="1120.2" stroke="#3c3c3c" stroke-width="1.3"/>
<line x1="894.5" y1="779.2" x2="894.5" y2="783.2" stroke="#3c3c3c" stroke-width="1.3"/>
<text x="806.5" y="1166.2" font-size="30.5" text-anchor="middle" font-weight="normal" fill="#3c3c3c">0</text>
<text x="849.2" y="1166.2" font-size="30.5" text-anchor="middle" font-weight="normal" fill="#3c3c3c">50</text>
<text x="894.5" y="1166.2" font-size="30.5" text-anchor="middle" font-weight="normal" fill="#3c3c3c">100</text>
<path d="M804.5 1124.2L804.5 1124.2L804.5 1087.4L804.5 1087.4L804.5 1050.6L808.1 1050.6L808.1 1013.8L855.8 1013.8L855.8 977L919.34 977L919.34 940.2L871.1 940.2L871.1 903.4L851.93 903.4L851.93 866.6L830.15 866.6L830.15 829.8L813.05 829.8L813.05 793L804.5 793L804.5 779.2" fill="none" stroke="#0000ff" stroke-width="4.4" stroke-linejoin="miter" stroke-linecap="square"/>
<path d="M804.5 1124.2L809.81 1124.2L809.81 1087.4L804.5 1087.4L804.5 1050.6L817.1 1050.6L817.1 1013.8L865.7 1013.8L865.7 977L878.03 977L878.03 940.2L842.3 940.2L842.3 903.4L804.5 903.4L804.5 866.6L804.5 866.6L804.5 779.2" fill="none" stroke="#ff0000" stroke-width="4.4" stroke-linejoin="miter" stroke-linecap="square"/>
<clipPath id="hc2"><rect x="371.8" y="1321.5" width="422.99999999999994" height="146.0"/></clipPath>
<g clip-path="url(#hc2)">
<rect x="371.8" y="1404.02" width="28.2" height="66.48" fill="#0000ff" fill-opacity="0.6" stroke="#000" stroke-width="1.0"/>
<rect x="400" y="1332.26" width="28.2" height="138.24" fill="#0000ff" fill-opacity="0.6" stroke="#000" stroke-width="1.0"/>
<rect x="428.2" y="1340.54" width="28.2" height="129.96" fill="#0000ff" fill-opacity="0.6" stroke="#000" stroke-width="1.0"/>
<rect x="456.4" y="1368.14" width="28.2" height="102.36" fill="#0000ff" fill-opacity="0.6" stroke="#000" stroke-width="1.0"/>
<rect x="484.6" y="1384.7" width="28.2" height="85.8" fill="#0000ff" fill-opacity="0.6" stroke="#000" stroke-width="1.0"/>
<rect x="512.8" y="1377.8" width="28.2" height="92.7" fill="#0000ff" fill-opacity="0.6" stroke="#000" stroke-width="1.0"/>
<rect x="541" y="1392.98" width="28.2" height="77.52" fill="#0000ff" fill-opacity="0.6" stroke="#000" stroke-width="1.0"/>
<rect x="569.2" y="1410.23" width="28.2" height="60.27" fill="#0000ff" fill-opacity="0.6" stroke="#000" stroke-width="1.0"/>
<rect x="597.4" y="1372.28" width="28.2" height="98.22" fill="#0000ff" fill-opacity="0.6" stroke="#000" stroke-width="1.0"/>
<rect x="625.6" y="1301.9" width="28.2" height="168.6" fill="#0000ff" fill-opacity="0.6" stroke="#000" stroke-width="1.0"/>
<rect x="653.8" y="1359.17" width="28.2" height="111.33" fill="#0000ff" fill-opacity="0.6" stroke="#000" stroke-width="1.0"/>
<rect x="682" y="1383.32" width="28.2" height="87.18" fill="#0000ff" fill-opacity="0.6" stroke="#000" stroke-width="1.0"/>
<rect x="710.2" y="1375.04" width="28.2" height="95.46" fill="#0000ff" fill-opacity="0.6" stroke="#000" stroke-width="1.0"/>
<rect x="738.4" y="1383.32" width="28.2" height="87.18" fill="#0000ff" fill-opacity="0.6" stroke="#000" stroke-width="1.0"/>
<rect x="766.6" y="1410.92" width="28.2" height="59.58" fill="#0000ff" fill-opacity="0.6" stroke="#000" stroke-width="1.0"/>
<rect x="371.8" y="1459.22" width="28.2" height="11.28" fill="#ff0000" fill-opacity="0.6" stroke="#000" stroke-width="1.0"/>
<rect x="400" y="1461.98" width="28.2" height="8.52" fill="#ff0000" fill-opacity="0.6" stroke="#000" stroke-width="1.0"/>
<rect x="428.2" y="1460.6" width="28.2" height="9.9" fill="#ff0000" fill-opacity="0.6" stroke="#000" stroke-width="1.0"/>
<rect x="456.4" y="1459.22" width="28.2" height="11.28" fill="#ff0000" fill-opacity="0.6" stroke="#000" stroke-width="1.0"/>
<rect x="484.6" y="1453.01" width="28.2" height="17.49" fill="#ff0000" fill-opacity="0.6" stroke="#000" stroke-width="1.0"/>
<rect x="512.8" y="1424.72" width="28.2" height="45.78" fill="#ff0000" fill-opacity="0.6" stroke="#000" stroke-width="1.0"/>
<rect x="541" y="1410.92" width="28.2" height="59.58" fill="#ff0000" fill-opacity="0.6" stroke="#000" stroke-width="1.0"/>
<rect x="569.2" y="1447.21" width="28.2" height="23.29" fill="#ff0000" fill-opacity="0.6" stroke="#000" stroke-width="1.0"/>
<rect x="597.4" y="1460.6" width="28.2" height="9.9" fill="#ff0000" fill-opacity="0.6" stroke="#000" stroke-width="1.0"/>
<rect x="625.6" y="1464.74" width="28.2" height="5.76" fill="#ff0000" fill-opacity="0.6" stroke="#000" stroke-width="1.0"/>
<rect x="653.8" y="1455.91" width="28.2" height="14.59" fill="#ff0000" fill-opacity="0.6" stroke="#000" stroke-width="1.0"/>
<rect x="682" y="1461.98" width="28.2" height="8.52" fill="#ff0000" fill-opacity="0.6" stroke="#000" stroke-width="1.0"/>
<rect x="710.2" y="1444.45" width="28.2" height="26.05" fill="#ff0000" fill-opacity="0.6" stroke="#000" stroke-width="1.0"/>
<rect x="738.4" y="1402.64" width="28.2" height="67.86" fill="#ff0000" fill-opacity="0.6" stroke="#000" stroke-width="1.0"/>
<rect x="766.6" y="1430.24" width="28.2" height="40.26" fill="#ff0000" fill-opacity="0.6" stroke="#000" stroke-width="1.0"/>
</g>
<line x1="639.5" y1="1321.5" x2="639.5" y2="1467.5" stroke="#000" stroke-width="1.0" stroke-dasharray="1.2 1.2"/>
<line x1="752.1" y1="1321.5" x2="752.1" y2="1467.5" stroke="#000" stroke-width="1.0" stroke-dasharray="1.2 1.2"/>
<line x1="643.5" y1="1337.4" x2="748.1" y2="1337.4" stroke="#444" stroke-width="1.3"/>
<path d="M640 1337.4l11.5 -5.8v11.6z M751.6 1337.4l-11.5 -5.8v11.6z" fill="#444"/>
<line x1="410.23" y1="1467.5" x2="410.23" y2="1463" stroke="#3c3c3c" stroke-width="1.3"/>
<line x1="410.23" y1="1321.5" x2="410.23" y2="1326" stroke="#3c3c3c" stroke-width="1.3"/>
<line x1="477.55" y1="1467.5" x2="477.55" y2="1463" stroke="#3c3c3c" stroke-width="1.3"/>
<line x1="477.55" y1="1321.5" x2="477.55" y2="1326" stroke="#3c3c3c" stroke-width="1.3"/>
<line x1="544.87" y1="1467.5" x2="544.87" y2="1463" stroke="#3c3c3c" stroke-width="1.3"/>
<line x1="544.87" y1="1321.5" x2="544.87" y2="1326" stroke="#3c3c3c" stroke-width="1.3"/>
<line x1="612.2" y1="1467.5" x2="612.2" y2="1463" stroke="#3c3c3c" stroke-width="1.3"/>
<line x1="612.2" y1="1321.5" x2="612.2" y2="1326" stroke="#3c3c3c" stroke-width="1.3"/>
<line x1="679.52" y1="1467.5" x2="679.52" y2="1463" stroke="#3c3c3c" stroke-width="1.3"/>
<line x1="679.52" y1="1321.5" x2="679.52" y2="1326" stroke="#3c3c3c" stroke-width="1.3"/>
<line x1="746.84" y1="1467.5" x2="746.84" y2="1463" stroke="#3c3c3c" stroke-width="1.3"/>
<line x1="746.84" y1="1321.5" x2="746.84" y2="1326" stroke="#3c3c3c" stroke-width="1.3"/>
<text x="352" y="1340.2" font-size="30.5" text-anchor="end" font-weight="normal" fill="#3c3c3c">100</text>
<line x1="371.8" y1="1395" x2="376.3" y2="1395" stroke="#3c3c3c" stroke-width="1.3"/>
<line x1="794.8" y1="1395" x2="790.3" y2="1395" stroke="#3c3c3c" stroke-width="1.3"/>
<text x="352" y="1405.8" font-size="30.5" text-anchor="end" font-weight="normal" fill="#3c3c3c">50</text>
<text x="352" y="1471.6" font-size="30.5" text-anchor="end" font-weight="normal" fill="#3c3c3c">0</text>
<rect x="371.8" y="1321.5" width="423" height="146" fill="none" stroke="#3c3c3c" stroke-width="1.5"/>
<text x="581" y="1299" font-size="30" text-anchor="middle" font-weight="normal" fill="#3c3c3c">phase (rad)</text>
<path d="M564.61 1682.07h0M776.11 1682.07h0M557.75 1801.1h0M769.25 1801.1h0M494.21 1754.29h0M705.71 1754.29h0M481.11 1794.67h0M692.61 1794.67h0M409.61 1751.43h0M621.11 1751.43h0M415.75 1749.99h0M627.25 1749.99h0M374.24 1800.8h0M585.74 1800.8h0M519.17 1754.64h0M730.67 1754.64h0M477.42 1711.57h0M688.92 1711.57h0M444.93 1804.68h0M656.43 1804.68h0M534.63 1731.54h0M746.13 1731.54h0M508.15 1727.15h0M719.65 1727.15h0M574.31 1762.68h0M785.81 1762.68h0M529.69 1761.87h0M741.19 1761.87h0M489.99 1721.71h0M701.49 1721.71h0M435.49 1800.8h0M646.99 1800.8h0M469.27 1713.82h0M680.77 1713.82h0M493.91 1751.03h0M705.41 1751.03h0M504.86 1787.55h0M716.36 1787.55h0M406.76 1768.1h0M618.26 1768.1h0M541.56 1785.68h0M753.06 1785.68h0M393.17 1799.03h0M604.67 1799.03h0M377.23 1774.68h0M588.73 1774.68h0M490.15 1699.68h0M701.65 1699.68h0M438.97 1761.74h0M650.47 1761.74h0M430.01 1770.66h0M641.51 1770.66h0M533.46 1737.06h0M744.96 1737.06h0M423.66 1797.86h0M635.16 1797.86h0M534.78 1715.3h0M746.28 1715.3h0M544.24 1779.85h0M755.74 1779.85h0M484.37 1686.18h0M695.87 1686.18h0M494.36 1682.5h0M705.86 1682.5h0M404.38 1678.44h0M615.88 1678.44h0M380.83 1755.33h0M592.33 1755.33h0M373.94 1701.2h0M585.44 1701.2h0M514.34 1678.61h0M725.84 1678.61h0M539.25 1682.04h0M750.75 1682.04h0M482.91 1676.62h0M694.41 1676.62h0M527.42 1764.97h0M738.92 1764.97h0M575.08 1760.72h0M786.58 1760.72h0M409.89 1802.16h0M621.39 1802.16h0M467.55 1785.54h0M679.05 1785.54h0M566.45 1681.82h0M777.95 1681.82h0M414.67 1798.36h0M626.17 1798.36h0M480.88 1789.25h0M692.38 1789.25h0M483.98 1700.75h0M695.48 1700.75h0M422.52 1754.57h0M634.02 1754.57h0M559.53 1751.41h0M771.03 1751.41h0M441.5 1689.82h0M653 1689.82h0M541.11 1689.42h0M752.61 1689.42h0M514.46 1755.82h0M725.96 1755.82h0M515.57 1698.42h0M727.07 1698.42h0M504.26 1779.79h0M715.76 1779.79h0M431.45 1756.24h0M642.95 1756.24h0M532.21 1735.94h0M743.71 1735.94h0M485.31 1698.87h0M696.81 1698.87h0M391.94 1725.74h0M603.44 1725.74h0M439.32 1735.63h0M650.82 1735.63h0M545.68 1778.43h0M757.18 1778.43h0M570.25 1801.79h0M781.75 1801.79h0M487.87 1738.05h0M699.37 1738.05h0M418.72 1735.43h0M630.22 1735.43h0M468.56 1750.74h0M680.06 1750.74h0M520.94 1812.06h0M732.44 1812.06h0M448.77 1704.5h0M660.27 1704.5h0M399 1693.25h0M610.5 1693.25h0M412.06 1718.88h0M623.56 1718.88h0M405.62 1750.77h0M617.12 1750.77h0M458.37 1801.34h0M669.87 1801.34h0M516.97 1746.53h0M728.47 1746.53h0M514.73 1738.42h0M726.23 1738.42h0M486.57 1740.2h0M698.07 1740.2h0M431.98 1688.93h0M643.48 1688.93h0M387.27 1691.98h0M598.77 1691.98h0M551.62 1744.1h0M763.12 1744.1h0M533.32 1719.94h0M744.82 1719.94h0M496.97 1772.47h0M708.47 1772.47h0M436.61 1764.53h0M648.11 1764.53h0M432.91 1680.54h0M644.41 1680.54h0M441.18 1759.27h0M652.68 1759.27h0M457.74 1700.25h0M669.24 1700.25h0M470.05 1736.4h0M681.55 1736.4h0M423.03 1774.34h0M634.53 1774.34h0M387.84 1782.71h0M599.34 1782.71h0M424.81 1695.33h0M636.31 1695.33h0M475.27 1797.41h0M686.77 1797.41h0M466.87 1795.96h0M678.37 1795.96h0M488.71 1751.76h0M700.21 1751.76h0M550.53 1776.92h0M762.03 1776.92h0M548.96 1778.53h0M760.46 1778.53h0M576.82 1725.34h0M788.32 1725.34h0M378.03 1701.53h0M589.53 1701.53h0M427.3 1762.76h0M638.8 1762.76h0M400 1697.37h0M611.5 1697.37h0M388.11 1711.01h0M599.61 1711.01h0M452.7 1719.11h0M664.2 1719.11h0M430.98 1801.83h0M642.48 1801.83h0M562.56 1722.51h0M774.06 1722.51h0M404.89 1678.28h0M616.39 1678.28h0M561.85 1787.47h0M773.35 1787.47h0M373.04 1728.53h0M584.54 1728.53h0M398.43 1711.89h0M609.93 1711.89h0M468.17 1715.03h0M679.67 1715.03h0M489.51 1706.55h0M701.01 1706.55h0M542.77 1729.64h0M754.27 1729.64h0M494.08 1767.62h0M705.58 1767.62h0M397.36 1799.87h0M608.86 1799.87h0M550.24 1784.24h0M761.74 1784.24h0M459.22 1769.02h0M670.72 1769.02h0M500.05 1739.21h0M711.55 1739.21h0M550.69 1752.6h0M762.19 1752.6h0M445.54 1722.99h0M657.04 1722.99h0M526.53 1685.26h0M738.03 1685.26h0M434.95 1690.62h0M646.45 1690.62h0M576.57 1677.43h0M788.07 1677.43h0M396.32 1760.3h0M607.82 1760.3h0M532.7 1698.25h0M744.2 1698.25h0M377.36 1758.24h0M588.86 1758.24h0M522.16 1708.26h0M733.66 1708.26h0M482.17 1783.63h0M693.67 1783.63h0M455.04 1804.54h0M666.54 1804.54h0M435.77 1753.79h0M647.27 1753.79h0M543.05 1731.51h0M754.55 1731.51h0M456.64 1778.76h0M668.14 1778.76h0M435.68 1720.3h0M647.18 1720.3h0M463.21 1788.78h0M674.71 1788.78h0M542.8 1733.4h0M754.3 1733.4h0M573.63 1738.79h0M785.13 1738.79h0M500.78 1753.76h0M712.28 1753.76h0M497.65 1686.17h0M709.15 1686.17h0M576.54 1721.65h0M788.04 1721.65h0M460 1803.98h0M671.5 1803.98h0M546.7 1758.74h0M758.2 1758.74h0M449.89 1804.74h0M661.39 1804.74h0M376.22 1758.86h0M587.72 1758.86h0M575.16 1710.7h0M786.66 1710.7h0M518.91 1720.62h0M730.41 1720.62h0M426.71 1789.39h0M638.21 1789.39h0M496.4 1803.85h0M707.9 1803.85h0M493.38 1741.81h0M704.88 1741.81h0M483.74 1795.9h0M695.24 1795.9h0M383.3 1747.48h0M594.8 1747.48h0M399.79 1724.34h0M611.29 1724.34h0M434.47 1727.2h0M645.97 1727.2h0M527.67 1729.15h0M739.17 1729.15h0M481.43 1785.45h0M692.93 1785.45h0M442.43 1678.03h0M653.93 1678.03h0M425.8 1773.48h0M637.3 1773.48h0M473.33 1737.48h0M684.83 1737.48h0M536.24 1771.97h0M747.74 1771.97h0M572.64 1809.54h0M784.14 1809.54h0M536.16 1734.21h0M747.66 1734.21h0M559.6 1791.54h0M771.1 1791.54h0M514.77 1682.26h0M726.27 1682.26h0M510.08 1797.14h0M721.58 1797.14h0M563.78 1679.18h0M775.28 1679.18h0M392.44 1698.77h0M603.94 1698.77h0M385.78 1801.41h0M597.28 1801.41h0M537.22 1713.54h0M748.72 1713.54h0M571.45 1725.65h0M782.95 1725.65h0M477.22 1775.16h0M688.72 1775.16h0M490.16 1676.04h0M701.66 1676.04h0M505.77 1692.13h0M717.27 1692.13h0M410.76 1711.47h0M622.26 1711.47h0M523.77 1802.85h0M735.27 1802.85h0M542.47 1788.37h0M753.97 1788.37h0M414.97 1804.18h0M626.47 1804.18h0M509.15 1793.02h0M720.65 1793.02h0M575.36 1812.59h0M786.86 1812.59h0M540.21 1708.14h0M751.71 1708.14h0M489.41 1733.9h0M700.91 1733.9h0M537.77 1725.04h0M749.27 1725.04h0M398.48 1702.95h0M609.98 1702.95h0M443.85 1732.27h0M655.35 1732.27h0M477.38 1688.2h0M688.88 1688.2h0M456.64 1695.17h0M668.14 1695.17h0M386.3 1767.72h0M597.8 1767.72h0M510.83 1728.4h0M722.33 1728.4h0M545.04 1783.99h0M756.54 1783.99h0M539.09 1703.12h0M750.59 1703.12h0M399.23 1793.36h0M610.73 1793.36h0M492.37 1678.35h0M703.87 1678.35h0M498.8 1753.71h0M710.3 1753.71h0M476.2 1701.21h0M687.7 1701.21h0M479.46 1738.74h0M690.96 1738.74h0M494.48 1684.34h0M705.98 1684.34h0M538.28 1697.13h0M749.78 1697.13h0M425.3 1730.02h0M636.8 1730.02h0M543.08 1713.78h0M754.58 1713.78h0M570.31 1686.67h0M781.81 1686.67h0M395.99 1742.67h0M607.49 1742.67h0M444.67 1784.37h0M656.17 1784.37h0M474.92 1677.26h0M686.42 1677.26h0M531.49 1798.96h0M742.99 1798.96h0M421.39 1761.73h0M632.89 1761.73h0M556.21 1749.37h0M767.71 1749.37h0M402.74 1736.89h0M614.24 1736.89h0M421.29 1807.32h0M632.79 1807.32h0M494.35 1676.26h0M705.85 1676.26h0M533.11 1711.3h0M744.61 1711.3h0M401.28 1735.31h0M612.78 1735.31h0M503.71 1708.14h0M715.21 1708.14h0M463.48 1805.26h0M674.98 1805.26h0M565.21 1776.06h0M776.71 1776.06h0M525.18 1748.72h0M736.68 1748.72h0M533.8 1766.13h0M745.3 1766.13h0M388.56 1753.71h0M600.06 1753.71h0M470.52 1703.54h0M682.02 1703.54h0M454.39 1720.9h0M665.89 1720.9h0M448.59 1711.79h0M660.09 1711.79h0M405.85 1691.5h0M617.35 1691.5h0M568.74 1809.34h0M780.24 1809.34h0M550.55 1705.54h0M762.05 1705.54h0M515.57 1798.03h0M727.07 1798.03h0M524 1706.42h0M735.5 1706.42h0M501.46 1680h0M712.96 1680h0M569.28 1725.42h0M780.78 1725.42h0M564.64 1792.81h0M776.14 1792.81h0M432.09 1739.69h0M643.59 1739.69h0M479.55 1681.49h0M691.05 1681.49h0M503.5 1727.11h0M715 1727.11h0M500.4 1682.49h0M711.9 1682.49h0M453.69 1710.86h0M665.19 1710.86h0M495.93 1757.23h0M707.43 1757.23h0M440.7 1791.45h0M652.2 1791.45h0M371.31 1766.37h0M582.81 1766.37h0M432.49 1801.42h0M643.99 1801.42h0M471.68 1764.32h0M683.18 1764.32h0M564.85 1705.2h0M776.35 1705.2h0M509.67 1696.05h0M721.17 1696.05h0M427.09 1796.6h0M638.59 1796.6h0M497.95 1781.3h0M709.45 1781.3h0M577.34 1754.12h0M788.84 1754.12h0M556.42 1778.79h0M767.92 1778.79h0M388.82 1726.32h0M600.32 1726.32h0M515.55 1777.37h0M727.05 1777.37h0M565.02 1678.7h0M776.52 1678.7h0M514.36 1677.57h0M725.86 1677.57h0M576.94 1792.22h0M788.44 1792.22h0M523.47 1709.95h0M734.97 1709.95h0M523.79 1765.88h0M735.29 1765.88h0M483.91 1731.68h0M695.41 1731.68h0M548.77 1805.52h0M760.27 1805.52h0M448.36 1769.27h0M659.86 1769.27h0M536.41 1796.55h0M747.91 1796.55h0M382.05 1796.72h0M593.55 1796.72h0M393.54 1752.72h0M605.04 1752.72h0M552.1 1763.73h0M763.6 1763.73h0M390.39 1720.41h0M601.89 1720.41h0M439.36 1734.01h0M650.86 1734.01h0M527.12 1749.87h0M738.62 1749.87h0M524.09 1727.35h0M735.59 1727.35h0M549.15 1707.7h0M760.65 1707.7h0M559.6 1709.91h0M771.1 1709.91h0M428.69 1743.17h0M640.19 1743.17h0M532.34 1704.63h0M743.84 1704.63h0M523.47 1696.59h0M734.97 1696.59h0M543.39 1738.15h0M754.89 1738.15h0M504.47 1806.57h0M715.97 1806.57h0M469.98 1712.6h0M681.48 1712.6h0M562.21 1695.87h0M773.71 1695.87h0M461.91 1781.01h0M673.41 1781.01h0M556.3 1722.16h0M767.8 1722.16h0M409.52 1807.41h0M621.02 1807.41h0M554.71 1733.24h0M766.21 1733.24h0M392.15 1676.39h0M603.65 1676.39h0M493.2 1708.21h0M704.7 1708.21h0M539.56 1777.39h0M751.06 1777.39h0M479.49 1788.91h0M690.99 1788.91h0M498.53 1752.8h0M710.03 1752.8h0M536.09 1796.67h0M747.59 1796.67h0M412.47 1759.34h0M623.97 1759.34h0M580.83 1756.66h0M572.58 1693.48h0M784.08 1693.48h0M407.08 1698.15h0M618.58 1698.15h0M416.61 1779.63h0M628.11 1779.63h0M503.85 1772.13h0M715.35 1772.13h0M411.57 1800.82h0M623.07 1800.82h0M406.39 1786.12h0M617.89 1786.12h0M561.86 1806.83h0M773.36 1806.83h0M483.24 1783.4h0M694.74 1783.4h0M521.34 1812.19h0M732.84 1812.19h0M447.55 1711.09h0M659.05 1711.09h0M374.48 1756h0M585.98 1756h0M437.95 1745.98h0M649.45 1745.98h0M501.96 1801.6h0M713.46 1801.6h0M552.14 1775.44h0M763.64 1775.44h0M532.29 1794.31h0M743.79 1794.31h0M388.84 1785.95h0M600.34 1785.95h0M386.74 1778.5h0M598.24 1778.5h0M398.52 1800.7h0M610.02 1800.7h0M549.17 1739.89h0M760.67 1739.89h0M474.02 1742.66h0M685.52 1742.66h0M540.43 1806.28h0M751.93 1806.28h0M378.59 1720.93h0M590.09 1720.93h0M581.98 1743.02h0M501.17 1695.71h0M712.67 1695.71h0M580.64 1757.29h0M435.19 1732.77h0M646.69 1732.77h0M375.98 1708.85h0M587.48 1708.85h0M571.4 1737.1h0M782.9 1737.1h0M509.9 1697.69h0M721.4 1697.69h0M547.46 1699.85h0M758.96 1699.85h0M472.05 1800.54h0M683.55 1800.54h0M537.02 1696.51h0M748.52 1696.51h0M517.25 1769.31h0M728.75 1769.31h0M575.2 1726.9h0M786.7 1726.9h0M435.07 1704.43h0M646.57 1704.43h0M416.4 1779.48h0M627.9 1779.48h0M560.46 1805h0M771.96 1805h0M552.96 1758.01h0M764.46 1758.01h0M489.98 1717.52h0M701.48 1717.52h0M559.9 1782.35h0M771.4 1782.35h0M388.66 1742.13h0M600.16 1742.13h0M416.4 1754.24h0M627.9 1754.24h0M392.31 1800.22h0M603.81 1800.22h0M489.02 1805.47h0M700.52 1805.47h0M425.39 1759.19h0M636.89 1759.19h0M389.08 1701.75h0M600.58 1701.75h0M559.68 1808.18h0M771.18 1808.18h0M539.65 1788.4h0M751.15 1788.4h0M523.3 1804.25h0M734.8 1804.25h0M526.67 1684.29h0M738.17 1684.29h0M423.79 1789.89h0M635.29 1789.89h0M441.01 1694.29h0M652.51 1694.29h0M534.01 1791.04h0M745.51 1791.04h0M559.74 1710.9h0M771.24 1710.9h0M571.44 1678.76h0M782.94 1678.76h0M402.51 1712.48h0M614.01 1712.48h0M374.18 1786.21h0M585.68 1786.21h0M482.46 1664.97h0M693.96 1664.97h0M415.16 1659.62h0M626.66 1659.62h0M466.17 1635.53h0M677.67 1635.53h0M491.93 1651.09h0M703.43 1651.09h0M521.13 1666.9h0M732.63 1666.9h0M538.9 1642.2h0M750.4 1642.2h0M541.22 1655.64h0M752.72 1655.64h0M483.6 1671.78h0M695.1 1671.78h0M465.97 1647.32h0M677.47 1647.32h0M569.91 1636.47h0M781.41 1636.47h0M440.75 1642.48h0M652.25 1642.48h0M550.06 1633.66h0M761.56 1633.66h0M512.93 1660.83h0M724.43 1660.83h0M553.76 1674.3h0M765.26 1674.3h0M489.03 1655.3h0M700.53 1655.3h0M555.7 1648.29h0M767.2 1648.29h0M411.43 1667.88h0M622.93 1667.88h0M376.63 1642.65h0M588.13 1642.65h0M534.65 1658.94h0M746.15 1658.94h0M416.3 1651.03h0M627.8 1651.03h0M410.35 1652.35h0M621.85 1652.35h0M441.67 1661.28h0M653.17 1661.28h0M515.17 1664.31h0M726.67 1664.31h0M439.1 1650.75h0M650.6 1650.75h0M568.2 1668.54h0M779.7 1668.54h0M433.82 1663.28h0M645.32 1663.28h0M435.62 1654.03h0M647.12 1654.03h0M542.49 1667.21h0M753.99 1667.21h0M521.02 1656.42h0M732.52 1656.42h0M489.97 1653.39h0M701.47 1653.39h0M496.53 1667.28h0M708.03 1667.28h0M499.3 1657.71h0M710.8 1657.71h0M534.83 1649.38h0M746.33 1649.38h0M455.28 1632.56h0M666.78 1632.56h0M406.87 1674.41h0M618.37 1674.41h0M395.05 1645.34h0M606.55 1645.34h0M388.43 1643.38h0M599.93 1643.38h0M387.67 1662.21h0M599.17 1662.21h0M500.61 1674.11h0M712.11 1674.11h0M460.55 1632.03h0M672.05 1632.03h0M522.95 1807.44h0M734.45 1807.44h0M451.32 1807.44h0M662.82 1807.44h0M561.13 1807.44h0M772.63 1807.44h0M489.39 1807.44h0M700.89 1807.44h0M540.51 1807.44h0M752.01 1807.44h0M441.72 1807.44h0M653.22 1807.44h0M449.72 1807.44h0M661.22 1807.44h0M517.16 1807.44h0M728.66 1807.44h0M529.93 1807.44h0M741.43 1807.44h0M515.49 1807.44h0M726.99 1807.44h0M400.8 1807.44h0M612.3 1807.44h0M458.12 1807.44h0M669.62 1807.44h0M436.31 1807.44h0M647.81 1807.44h0M417.96 1807.44h0M629.46 1807.44h0M393.59 1807.44h0M605.09 1807.44h0M527.25 1807.44h0M738.75 1807.44h0M398.93 1807.44h0M610.43 1807.44h0M443.83 1807.44h0M655.33 1807.44h0M372.97 1807.44h0M584.47 1807.44h0M518.06 1807.44h0M729.56 1807.44h0M501.26 1807.44h0M712.76 1807.44h0M385.52 1807.44h0M597.02 1807.44h0M569.96 1807.44h0M781.46 1807.44h0M579.44 1807.44h0M790.94 1807.44h0M527.63 1807.44h0M739.13 1807.44h0M539.42 1807.44h0M750.92 1807.44h0M517.8 1807.44h0M729.3 1807.44h0M373.66 1807.44h0M585.16 1807.44h0M426.76 1807.44h0M638.26 1807.44h0M419.09 1807.44h0M630.59 1807.44h0M373.57 1807.44h0M585.07 1807.44h0M504.01 1807.44h0M715.51 1807.44h0M494.04 1807.44h0M705.54 1807.44h0M445.59 1807.44h0M657.09 1807.44h0M527.26 1807.44h0M738.76 1807.44h0M418.55 1807.44h0M630.05 1807.44h0M428.39 1807.44h0M639.89 1807.44h0M393.34 1807.44h0M604.84 1807.44h0M418.75 1807.44h0M630.25 1807.44h0M548.94 1807.44h0M760.44 1807.44h0M472.64 1791.1h0M684.14 1791.1h0M524.81 1791.1h0M736.31 1791.1h0M552.54 1791.1h0M764.04 1791.1h0M509.94 1791.1h0M721.44 1791.1h0M445.39 1791.1h0M656.89 1791.1h0M573.58 1791.1h0M785.08 1791.1h0M385.94 1791.1h0M597.44 1791.1h0M456.37 1791.1h0M667.87 1791.1h0M556.19 1791.1h0M767.69 1791.1h0M513.28 1791.1h0M724.78 1791.1h0M443.8 1791.1h0M655.3 1791.1h0M543.95 1791.1h0M755.45 1791.1h0M529.29 1791.1h0M740.79 1791.1h0M522 1791.1h0M733.5 1791.1h0M425.36 1791.1h0M636.86 1791.1h0M512.82 1791.1h0M724.32 1791.1h0M507.71 1791.1h0M719.21 1791.1h0M546.66 1791.1h0M758.16 1791.1h0M477.48 1791.1h0M688.98 1791.1h0M565.55 1791.1h0M777.05 1791.1h0M521.31 1791.1h0M732.81 1791.1h0M413.31 1791.1h0M624.81 1791.1h0M491.33 1791.1h0M702.83 1791.1h0M410.52 1791.1h0M622.02 1791.1h0M499.59 1791.1h0M711.09 1791.1h0M437.87 1773.9h0M649.37 1773.9h0M580.07 1773.9h0M441.38 1773.9h0M652.88 1773.9h0M536.05 1773.9h0M747.55 1773.9h0M545.8 1773.9h0M757.3 1773.9h0M447.98 1773.9h0M659.48 1773.9h0M493.58 1773.9h0M705.08 1773.9h0M418.23 1773.9h0M629.73 1773.9h0M448.39 1773.9h0M659.89 1773.9h0M461.89 1773.9h0M673.39 1773.9h0M519.49 1773.9h0M730.99 1773.9h0M476.48 1773.9h0M687.98 1773.9h0M403.03 1773.9h0M614.53 1773.9h0M506.26 1773.9h0M717.76 1773.9h0" stroke="#a2a2a2" stroke-width="2.2" stroke-linecap="round" fill="none"/>
<path d="M461 1623.68h0M672.5 1623.68h0M488.87 1638.81h0M700.37 1638.81h0M440.48 1677.15h0M651.98 1677.15h0M430.73 1646.58h0M642.23 1646.58h0M443.6 1666.62h0M655.1 1666.62h0M383.29 1622.74h0M594.79 1622.74h0M439.12 1590.71h0M650.62 1590.71h0M371.75 1605.64h0M583.25 1605.64h0M396.32 1604.95h0M607.82 1604.95h0M460.08 1659.07h0M671.58 1659.07h0M426.64 1712.08h0M638.14 1712.08h0M444.39 1706.34h0M655.89 1706.34h0M418.93 1651.63h0M630.43 1651.63h0M569.74 1598.97h0M781.24 1598.97h0M457.34 1677.15h0M668.84 1677.15h0M425.17 1607.7h0M636.67 1607.7h0M437.4 1622.74h0M648.9 1622.74h0M540.13 1641.65h0M751.63 1641.65h0M540.11 1655.65h0M751.61 1655.65h0M398.24 1668.19h0M609.74 1668.19h0M492.53 1642.43h0M704.03 1642.43h0M411.58 1655.65h0M623.08 1655.65h0M456.87 1617.79h0M668.37 1617.79h0M502.42 1655.65h0M713.92 1655.65h0M563.84 1554.93h0M775.34 1554.93h0M488.43 1606.03h0M699.93 1606.03h0M433.31 1687.4h0M644.81 1687.4h0M430.68 1542.53h0M642.18 1542.53h0M460.41 1609.72h0M671.91 1609.72h0M560.7 1629.71h0M772.2 1629.71h0M408.24 1648.32h0M619.74 1648.32h0M578.32 1567.48h0M789.82 1567.48h0M449.86 1641.2h0M661.36 1641.2h0M454.17 1615.8h0M665.67 1615.8h0M442.48 1638.37h0M653.98 1638.37h0M491.46 1714.14h0M702.96 1714.14h0M431.84 1618.61h0M643.34 1618.61h0M407.64 1585.18h0M619.14 1585.18h0M387.15 1630.3h0M598.65 1630.3h0M539.09 1662.49h0M750.59 1662.49h0M474.88 1641.49h0M686.38 1641.49h0M430.49 1671.82h0M641.99 1671.82h0M482.09 1658.45h0M693.59 1658.45h0M435.76 1596.73h0M647.26 1596.73h0M514.51 1644.68h0M726.01 1644.68h0M461.2 1677.15h0M672.7 1677.15h0M413.5 1591.18h0M625 1591.18h0M487.74 1681.47h0M699.24 1681.47h0M401.58 1594.82h0M613.08 1594.82h0M430.84 1625.29h0M642.34 1625.29h0M438.41 1674.74h0M649.91 1674.74h0M488.51 1651.36h0M700.01 1651.36h0M417.52 1567.64h0M629.02 1567.64h0M429.41 1594.46h0M640.91 1594.46h0M374.57 1663.85h0M586.07 1663.85h0M460.29 1573.69h0M671.79 1573.69h0M434.7 1673.06h0M646.2 1673.06h0M454.61 1614.74h0M666.11 1614.74h0M474.14 1614h0M685.64 1614h0M398.84 1592.4h0M610.34 1592.4h0M371.83 1652.41h0M583.33 1652.41h0M379.46 1605.88h0M590.96 1605.88h0M408.13 1624.21h0M619.63 1624.21h0M522.18 1678.49h0M733.68 1678.49h0M517.3 1637.22h0M728.8 1637.22h0M560.32 1602.1h0M771.82 1602.1h0M447.1 1614h0M658.6 1614h0M486.49 1666.01h0M697.99 1666.01h0M380.63 1588.15h0M592.13 1588.15h0M452.39 1672.65h0M663.89 1672.65h0M497.3 1690.26h0M708.8 1690.26h0M516.61 1555.14h0M728.11 1555.14h0M477.53 1678.8h0M689.03 1678.8h0M464.88 1655.65h0M676.38 1655.65h0M424.91 1609.03h0M636.41 1609.03h0M573.53 1635.31h0M785.03 1635.31h0M468.71 1655.65h0M680.21 1655.65h0M517.12 1669.01h0M728.62 1669.01h0M429.25 1622.7h0M640.75 1622.7h0M462.45 1621.35h0M673.95 1621.35h0M418.17 1592.54h0M629.67 1592.54h0M380.27 1580.37h0M591.77 1580.37h0M413.14 1666.35h0M624.64 1666.35h0M447.12 1590.72h0M658.62 1590.72h0M502.91 1712.17h0M714.41 1712.17h0M562.56 1670.58h0M774.06 1670.58h0M495.54 1629.46h0M707.04 1629.46h0M545.27 1599.04h0M756.77 1599.04h0M515.5 1632.15h0M727 1632.15h0M472.77 1635.97h0M684.27 1635.97h0M426.31 1716.95h0M637.81 1716.95h0M439.06 1622.11h0M650.56 1622.11h0M561.49 1557.01h0M772.99 1557.01h0M382.55 1631h0M594.05 1631h0M573.8 1633.18h0M785.3 1633.18h0M394.43 1708.96h0M605.93 1708.96h0M550.35 1569.05h0M761.85 1569.05h0M460.89 1669.72h0M672.39 1669.72h0M377.06 1703.06h0M588.56 1703.06h0M417.76 1585.1h0M629.26 1585.1h0M530.24 1634.69h0M741.74 1634.69h0M524.28 1594.35h0M735.78 1594.35h0M557.89 1645.4h0M769.39 1645.4h0M548.66 1607.98h0M760.16 1607.98h0M376.03 1671.55h0M587.53 1671.55h0M382.47 1584.94h0M593.97 1584.94h0M545.98 1631.91h0M757.48 1631.91h0M470.18 1697.5h0M681.68 1697.5h0M555.5 1574.12h0M767 1574.12h0M435.19 1673.41h0M646.69 1673.41h0M579.11 1620.55h0M790.61 1620.55h0M405.93 1670.41h0M617.43 1670.41h0M419.57 1670.74h0M631.07 1670.74h0M422.22 1655.65h0M633.72 1655.65h0M372.51 1642.82h0M584.01 1642.82h0M519.34 1656.61h0M730.84 1656.61h0M472.78 1599.21h0M684.28 1599.21h0M398.29 1657.37h0M609.79 1657.37h0M440.52 1655.17h0M652.02 1655.17h0M440.52 1641.64h0M652.02 1641.64h0M573.49 1595.92h0M784.99 1595.92h0M510.48 1658.01h0M721.98 1658.01h0M504.43 1610.44h0M715.93 1610.44h0M437.64 1627.23h0M649.14 1627.23h0M435.79 1601.56h0M647.29 1601.56h0M445.91 1664.5h0M657.41 1664.5h0M417.19 1643.31h0M628.69 1643.31h0M497.12 1641.48h0M708.62 1641.48h0M405.69 1630.19h0M617.19 1630.19h0M459.85 1616.95h0M671.35 1616.95h0M457.15 1655.65h0M668.65 1655.65h0M472.03 1620.26h0M683.53 1620.26h0M411.46 1655.65h0M622.96 1655.65h0M509.22 1663.8h0M720.72 1663.8h0M399.38 1651.71h0M610.88 1651.71h0M536.51 1664.94h0M748.01 1664.94h0M442.09 1613.86h0M653.59 1613.86h0M383.11 1607.51h0M594.61 1607.51h0M460.35 1694.13h0M671.85 1694.13h0M429.44 1662.27h0M640.94 1662.27h0M476.32 1665.89h0M687.82 1665.89h0M490.82 1548.88h0M702.32 1548.88h0M469.97 1645.05h0M681.47 1645.05h0M499.64 1646.39h0M711.14 1646.39h0M578.91 1641.78h0M790.41 1641.78h0M551.26 1706.91h0M762.76 1706.91h0M420.67 1606.43h0M632.17 1606.43h0M471.11 1614.51h0M682.61 1614.51h0M470.3 1669.52h0M681.8 1669.52h0M417.96 1612.71h0M629.46 1612.71h0M549.35 1631.95h0M760.85 1631.95h0M416.31 1706.81h0M627.81 1706.81h0M490.38 1624.68h0M701.88 1624.68h0M428.75 1656.88h0M640.25 1656.88h0M545.05 1632.3h0M756.55 1632.3h0M458.56 1639.49h0M670.06 1639.49h0M481.82 1639.21h0M693.32 1639.21h0M422.71 1672.62h0M634.21 1672.62h0M544.96 1673.81h0M756.46 1673.81h0M524.15 1655.65h0M735.65 1655.65h0M479.53 1629.55h0M691.03 1629.55h0M551.87 1594.2h0M763.37 1594.2h0M529.84 1604.83h0M741.34 1604.83h0M528.78 1619.56h0M740.28 1619.56h0M418.07 1685.59h0M629.57 1685.59h0M405.88 1586.27h0M617.38 1586.27h0M389.04 1592.93h0M600.54 1592.93h0M389.22 1609.72h0M600.72 1609.72h0M571.04 1617.49h0M782.54 1617.49h0M563.25 1621.64h0M774.75 1621.64h0M468.56 1644.21h0M680.06 1644.21h0M549.65 1647.86h0M761.15 1647.86h0M419.04 1586.6h0M630.54 1586.6h0M413.93 1557.07h0M625.43 1557.07h0M451.08 1633.3h0M662.58 1633.3h0M467.71 1657.64h0M679.21 1657.64h0M476.99 1641.12h0M688.49 1641.12h0M522.81 1667.55h0M734.31 1667.55h0M522.3 1561.67h0M733.8 1561.67h0M398.05 1700.97h0M609.55 1700.97h0M381.46 1595.41h0M592.96 1595.41h0M433.21 1634.86h0M644.71 1634.86h0M472.28 1547.56h0M683.78 1547.56h0M425.91 1630.99h0M637.41 1630.99h0M441.74 1617.43h0M653.24 1617.43h0M407.04 1592.34h0M618.54 1592.34h0M517.25 1661.05h0M728.75 1661.05h0M563.83 1698.57h0M775.33 1698.57h0M389.77 1618.23h0M601.27 1618.23h0M513.66 1571.12h0M725.16 1571.12h0M425.65 1609.1h0M637.15 1609.1h0M503.67 1675.1h0M715.17 1675.1h0M542.94 1586.01h0M754.44 1586.01h0M464.69 1599.38h0M676.19 1599.38h0M428.56 1671.16h0M640.06 1671.16h0M409.06 1594.91h0M620.56 1594.91h0M516.3 1677.15h0M727.8 1677.15h0M575.97 1598.25h0M787.47 1598.25h0M454.17 1604.4h0M665.67 1604.4h0M559.57 1713.94h0M771.07 1713.94h0M453.61 1630.77h0M665.11 1630.77h0M435.59 1677.15h0M647.09 1677.15h0M408.8 1622.31h0M620.3 1622.31h0M537.76 1595.89h0M749.26 1595.89h0M487.83 1616.24h0M699.33 1616.24h0M396.43 1586.73h0M607.93 1586.73h0M446.58 1650.28h0M658.08 1650.28h0M400.29 1629.63h0M611.79 1629.63h0M433.64 1674.61h0M645.14 1674.61h0M449.22 1688.49h0M660.72 1688.49h0M470.15 1626.7h0M681.65 1626.7h0M568.01 1553.47h0M779.51 1553.47h0M556.18 1607.75h0M767.68 1607.75h0M493.81 1650.69h0M705.31 1650.69h0M514.79 1631h0M726.29 1631h0M543.9 1623.46h0M755.4 1623.46h0M434.86 1603.94h0M646.36 1603.94h0M550.87 1677.15h0M762.37 1677.15h0M402.12 1629.36h0M613.62 1629.36h0M451.38 1673.71h0M662.88 1673.71h0M480.97 1667.56h0M692.47 1667.56h0M537.06 1579h0M748.56 1579h0M383.57 1638.49h0M595.07 1638.49h0M553.96 1560.35h0M765.46 1560.35h0M497.61 1682.24h0M709.11 1682.24h0M487.81 1608.25h0M699.31 1608.25h0M395.25 1606.61h0M606.75 1606.61h0M391.94 1655.65h0M603.44 1655.65h0M381.56 1597.78h0M593.06 1597.78h0M449.79 1681.05h0M661.29 1681.05h0M404.55 1626.06h0M616.05 1626.06h0M534.82 1646.66h0M746.32 1646.66h0M434.28 1612.7h0M645.78 1612.7h0M520.32 1671.48h0M731.82 1671.48h0M479.69 1647.01h0M691.19 1647.01h0M443.27 1672.84h0M654.77 1672.84h0M404.5 1674.69h0M616 1674.69h0M407.85 1711.73h0M619.35 1711.73h0M460.45 1604.13h0M671.95 1604.13h0M391.52 1710.59h0M603.02 1710.59h0M412.15 1550.16h0M623.65 1550.16h0M405.78 1614.95h0M617.28 1614.95h0M497.6 1669.22h0M709.1 1669.22h0M540.81 1563.54h0M752.31 1563.54h0M457.57 1626.84h0M669.07 1626.84h0M383.92 1628.17h0M595.42 1628.17h0M508.17 1655.65h0M719.67 1655.65h0M407.75 1618.82h0M619.25 1618.82h0M556.49 1557.7h0M767.99 1557.7h0M423.15 1677.15h0M634.65 1677.15h0M505.5 1655.88h0M717 1655.88h0M414.69 1592.85h0M626.19 1592.85h0M392.01 1650.55h0M603.51 1650.55h0M398.41 1582.89h0M609.91 1582.89h0M441.97 1549.6h0M653.47 1549.6h0M433.69 1629.13h0M645.19 1629.13h0M453.34 1667.22h0M664.84 1667.22h0M573.37 1626.42h0M784.87 1626.42h0M482.34 1677.15h0M693.84 1677.15h0M382.42 1627.79h0M593.92 1627.79h0M425.18 1677.15h0M636.68 1677.15h0M459.84 1632.59h0M671.34 1632.59h0M541.06 1677.98h0M752.56 1677.98h0M474.37 1556.45h0M685.87 1556.45h0M432.5 1670.04h0M644 1670.04h0M424.65 1561.61h0M636.15 1561.61h0M573.15 1631.17h0M784.65 1631.17h0M442.61 1542.6h0M654.11 1542.6h0M388.87 1589.1h0M600.37 1589.1h0M393.27 1600.23h0M604.77 1600.23h0M429.88 1676.64h0M641.38 1676.64h0M532.15 1635.76h0M743.65 1635.76h0M386.15 1653.96h0M597.65 1653.96h0M500.22 1592.3h0M711.72 1592.3h0M580.3 1607.37h0M791.8 1607.37h0M574.39 1631.97h0M785.89 1631.97h0M401.48 1636.9h0M612.98 1636.9h0M561.42 1636.81h0M772.92 1636.81h0M487.7 1628.02h0M699.2 1628.02h0M427.46 1678.55h0M638.96 1678.55h0M532.14 1710.14h0M743.64 1710.14h0M391.73 1590.18h0M603.23 1590.18h0M421.65 1670.35h0M633.15 1670.35h0M377.71 1637.27h0M589.21 1637.27h0M424.9 1646.21h0M636.4 1646.21h0M545.17 1590.86h0M756.67 1590.86h0M447.47 1675.29h0M658.97 1675.29h0M418.93 1676.48h0M630.43 1676.48h0M442.96 1574.54h0M654.46 1574.54h0M494.56 1652.81h0M706.06 1652.81h0M384.91 1713.93h0M596.41 1713.93h0M484.55 1628.11h0M696.05 1628.11h0M497.11 1695.62h0M708.61 1695.62h0M471.81 1664.65h0M683.31 1664.65h0M577.61 1578.55h0M789.11 1578.55h0M427.1 1632.75h0M638.6 1632.75h0M397.59 1666.7h0M609.09 1666.7h0M499.42 1674.06h0M710.92 1674.06h0M381.85 1608.85h0M593.35 1608.85h0M407.12 1654.3h0M618.62 1654.3h0M495.4 1556.43h0M706.9 1556.43h0M432.88 1608.22h0M644.38 1608.22h0M494.87 1666.51h0M706.37 1666.51h0M433.27 1641h0M644.77 1641h0M459.11 1678.01h0M670.61 1678.01h0M497.77 1579.97h0M709.27 1579.97h0M394.53 1677.71h0M606.03 1677.71h0M416.27 1643.68h0M627.77 1643.68h0M448.42 1600.23h0M659.92 1600.23h0M427.78 1624.9h0M639.28 1624.9h0M466.23 1586.42h0M677.73 1586.42h0M501.74 1657.11h0M713.24 1657.11h0M569.78 1577.57h0M781.28 1577.57h0M451.24 1608.96h0M662.74 1608.96h0M421.64 1593.49h0M633.14 1593.49h0M409.53 1591.57h0M621.03 1591.57h0M478.69 1621.03h0M690.19 1621.03h0M453.84 1655.65h0M665.34 1655.65h0M454.62 1654.38h0M666.12 1654.38h0M435.69 1692.67h0M647.19 1692.67h0M384.46 1630.75h0M595.96 1630.75h0M426.38 1610.51h0M637.88 1610.51h0M447.55 1557.21h0M659.05 1557.21h0M420.32 1593.03h0M631.82 1593.03h0M559.09 1568.41h0M770.59 1568.41h0M414.53 1631.86h0M626.03 1631.86h0M536.23 1650.96h0M747.73 1650.96h0M408.84 1661.93h0M620.34 1661.93h0M451.92 1637.47h0M663.42 1637.47h0M421.03 1713.95h0M632.53 1713.95h0M564.57 1614.4h0M776.07 1614.4h0M412.61 1590.96h0M624.11 1590.96h0M472.58 1650.74h0M684.08 1650.74h0M500.04 1653.79h0M711.54 1653.79h0M454.62 1558.64h0M666.12 1558.64h0M427.6 1662.47h0M639.1 1662.47h0M433 1657.94h0M644.5 1657.94h0M402.24 1666.47h0M613.74 1666.47h0M425.16 1606.2h0M636.66 1606.2h0M483.06 1633.06h0M694.56 1633.06h0M434.58 1588.2h0M646.08 1588.2h0M437.72 1677.15h0M649.22 1677.15h0M413.54 1636.64h0M625.04 1636.64h0M477.57 1648.57h0M689.07 1648.57h0M440.61 1660.58h0M652.11 1660.58h0M562.83 1681.4h0M774.33 1681.4h0M578.39 1587.4h0M789.89 1587.4h0M443.55 1719.3h0M655.05 1719.3h0M384.96 1644.68h0M596.46 1644.68h0M419.15 1639.53h0M630.65 1639.53h0M564.07 1710.11h0M775.57 1710.11h0M547.93 1628.87h0M759.43 1628.87h0M396.82 1677.15h0M608.32 1677.15h0M542.57 1563.53h0M754.07 1563.53h0M568.67 1554.08h0M780.17 1554.08h0M384.31 1674.17h0M595.81 1674.17h0M417.46 1657.53h0M628.96 1657.53h0M379.3 1601.94h0M590.8 1601.94h0M436.8 1602.88h0M648.3 1602.88h0M433.11 1617.15h0M644.61 1617.15h0M537.94 1545.86h0M749.44 1545.86h0M411.02 1700.22h0M622.52 1700.22h0M537.19 1551.21h0M748.69 1551.21h0M370.5 1630.58h0M582 1630.58h0M534.69 1646.55h0M746.19 1646.55h0M514.55 1682.11h0M726.05 1682.11h0M502.61 1654.22h0M714.11 1654.22h0M476.98 1716.23h0M688.48 1716.23h0M552.9 1563.92h0M764.4 1563.92h0M522.36 1618.58h0M733.86 1618.58h0M437.26 1623.88h0M648.76 1623.88h0M465.33 1624.96h0M676.83 1624.96h0M468 1609.89h0M679.5 1609.89h0M389.13 1648.19h0M600.63 1648.19h0M503.72 1617.56h0M715.22 1617.56h0M462.26 1690.99h0M673.76 1690.99h0M459.47 1676.7h0M670.97 1676.7h0M526.4 1622.99h0M737.9 1622.99h0M525.75 1640.54h0M737.25 1640.54h0M405.36 1653.44h0M616.86 1653.44h0M417.13 1638.44h0M628.63 1638.44h0M534.06 1621.81h0M745.56 1621.81h0M440.77 1619.26h0M652.27 1619.26h0M431.85 1667.11h0M643.35 1667.11h0M425.3 1542.26h0M636.8 1542.26h0M396.77 1563.29h0M608.27 1563.29h0M423.35 1666.29h0M634.85 1666.29h0M423.75 1563.85h0M635.25 1563.85h0M412.5 1677.15h0M624 1677.15h0M427.49 1594.5h0M638.99 1594.5h0M408.88 1588.41h0M620.38 1588.41h0M536 1696.48h0M747.5 1696.48h0M561.23 1640.59h0M772.73 1640.59h0M445.34 1594.6h0M656.84 1594.6h0M496.53 1602.34h0M708.03 1602.34h0M569.84 1654h0M781.34 1654h0M421.57 1563.65h0M633.07 1563.65h0M418.59 1619.12h0M630.09 1619.12h0M500.52 1719.99h0M712.02 1719.99h0M449.35 1647.18h0M660.85 1647.18h0M489.34 1636.38h0M700.84 1636.38h0M540.14 1677.83h0M751.64 1677.83h0M436.14 1696.52h0M647.64 1696.52h0M430.64 1625.43h0M642.14 1625.43h0M519.18 1571.65h0M730.68 1571.65h0M390.25 1616.66h0M601.75 1616.66h0M488.11 1655.29h0M699.61 1655.29h0M386.98 1639.51h0M598.48 1639.51h0M428.89 1668.66h0M640.39 1668.66h0M456.67 1647.98h0M668.17 1647.98h0M480.2 1586.87h0M691.7 1586.87h0M411.72 1553.76h0M623.22 1553.76h0M415.16 1610.14h0M626.66 1610.14h0M554.52 1586.56h0M766.02 1586.56h0M426.81 1627.39h0M638.31 1627.39h0M406.97 1611.67h0M618.47 1611.67h0M445.31 1645.62h0M656.81 1645.62h0M490.96 1561.78h0M702.46 1561.78h0M412.63 1718.66h0M624.13 1718.66h0M486.65 1583.08h0M698.15 1583.08h0M579.22 1595.92h0M790.72 1595.92h0M525.44 1639.33h0M736.94 1639.33h0M579.44 1611.74h0M790.94 1611.74h0M468.08 1689.48h0M679.58 1689.48h0M467 1660.66h0M678.5 1660.66h0M506.77 1594.39h0M718.27 1594.39h0M568.75 1621.53h0M780.25 1621.53h0M427.86 1657.14h0M639.36 1657.14h0M557.38 1602.67h0M768.88 1602.67h0M406.48 1655.88h0M617.98 1655.88h0M510.25 1587.35h0M721.75 1587.35h0M544.8 1620.96h0M756.3 1620.96h0M408.44 1656.64h0M619.94 1656.64h0M534.77 1631.44h0M746.27 1631.44h0M497.23 1669.1h0M708.73 1669.1h0M430.22 1655.65h0M641.72 1655.65h0M372.86 1635.96h0M584.36 1635.96h0M391.2 1598.4h0M602.7 1598.4h0M383.56 1661.79h0M595.06 1661.79h0M467.95 1685.93h0M679.45 1685.93h0M396.17 1582.91h0M607.67 1582.91h0M490.63 1649.41h0M702.13 1649.41h0M415.37 1677.15h0M626.87 1677.15h0M468.36 1585.85h0M679.86 1585.85h0M406.04 1562.57h0M617.54 1562.57h0M488.08 1583.98h0M699.58 1583.98h0M437.32 1655.65h0M648.82 1655.65h0M446.01 1638.92h0M657.51 1638.92h0M534.97 1594.71h0M746.47 1594.71h0M480.28 1652.67h0M691.78 1652.67h0M408.48 1637.96h0M619.98 1637.96h0M402.21 1588.09h0M613.71 1588.09h0M544.03 1653.71h0M755.53 1653.71h0M525.42 1602.33h0M736.92 1602.33h0M383.4 1616.94h0M594.9 1616.94h0M422.98 1661.51h0M634.48 1661.51h0M502.99 1632.31h0M714.49 1632.31h0M567.37 1572.52h0M778.87 1572.52h0M537.87 1718.61h0M749.37 1718.61h0M436.54 1593.33h0M648.04 1593.33h0M370.09 1559.36h0M581.59 1559.36h0M380.39 1603.22h0M591.89 1603.22h0M373.95 1604.35h0M585.45 1604.35h0M423.72 1596.72h0M635.22 1596.72h0M554.82 1581.79h0M766.32 1581.79h0M388.21 1560.35h0M599.71 1560.35h0M410.16 1594.55h0M621.66 1594.55h0M420.71 1637.91h0M632.21 1637.91h0M447.94 1548.51h0M659.44 1548.51h0M381.99 1694.02h0M593.49 1694.02h0M385.5 1761.82h0M597 1761.82h0M408.81 1790.32h0M620.31 1790.32h0M402.7 1790.98h0M614.2 1790.98h0M385.83 1757.12h0M597.33 1757.12h0M398 1786.28h0M609.5 1786.28h0M379.75 1745.51h0M591.25 1745.51h0M395.59 1778.13h0M607.09 1778.13h0M396.02 1768.46h0M607.52 1768.46h0M389.81 1781.28h0M601.31 1781.28h0M393.07 1759.34h0M604.57 1759.34h0M369.7 1743.5h0M581.2 1743.5h0M379.08 1750.53h0M590.58 1750.53h0M377.98 1766.09h0M589.48 1766.09h0M388.63 1776.75h0M600.13 1776.75h0M543.14 1781.51h0M754.64 1781.51h0M554.21 1783.17h0M765.71 1783.17h0M545.95 1789.52h0M757.45 1789.52h0M532.96 1789.84h0M744.46 1789.84h0M553.36 1802.81h0M764.86 1802.81h0M537.82 1784.07h0M749.32 1784.07h0M545.47 1782.23h0M756.97 1782.23h0M557.07 1789.85h0M768.57 1789.85h0M472.1 1766.22h0M683.6 1766.22h0M449.98 1740.45h0M661.48 1740.45h0M483.83 1750.19h0M695.33 1750.19h0M423.35 1752.95h0M634.85 1752.95h0M420.48 1743.44h0M631.98 1743.44h0M374 1526.65h0M585.5 1526.65h0M405 1526.65h0M616.5 1526.65h0M417 1526.65h0M628.5 1526.65h0M419 1526.65h0M630.5 1526.65h0M437 1526.65h0M648.5 1526.65h0M444 1526.65h0M655.5 1526.65h0M477 1526.65h0M688.5 1526.65h0M496 1526.65h0M707.5 1526.65h0M500 1526.65h0M711.5 1526.65h0M507 1526.65h0M718.5 1526.65h0M515 1526.65h0M726.5 1526.65h0M526 1526.65h0M737.5 1526.65h0M547 1526.65h0M758.5 1526.65h0M555 1526.65h0M766.5 1526.65h0M568 1526.65h0M779.5 1526.65h0M373.5 1537.4h0M585 1537.4h0M418 1532.24h0M629.5 1532.24h0M500.5 1530.95h0M712 1530.95h0" stroke="#0000ff" stroke-width="7" stroke-linecap="round" fill="none"/>
<path d="M517.53 1707.25h0M729.03 1707.25h0M559.17 1720.76h0M770.67 1720.76h0M512.38 1717.7h0M723.88 1717.7h0M565.08 1731.81h0M776.58 1731.81h0M531.76 1744.37h0M743.26 1744.37h0M531.14 1701.4h0M742.64 1701.4h0M515.5 1732.51h0M727 1732.51h0M548.07 1686.66h0M759.57 1686.66h0M537.86 1730.27h0M749.36 1730.27h0M518.83 1725.62h0M730.33 1725.62h0M541.95 1730.69h0M753.45 1730.69h0M542.38 1743.62h0M753.88 1743.62h0M526.99 1699.35h0M738.49 1699.35h0M539.03 1702.12h0M750.53 1702.12h0M533.01 1715.85h0M744.51 1715.85h0M542.58 1707.25h0M754.08 1707.25h0M506.4 1729.69h0M717.9 1729.69h0M535.37 1726.6h0M746.87 1726.6h0M520.61 1707.25h0M732.11 1707.25h0M579.15 1719.57h0M790.65 1719.57h0M532.92 1722.82h0M744.42 1722.82h0M551.57 1695.33h0M763.07 1695.33h0M532.06 1726.6h0M743.56 1726.6h0M566.18 1703.2h0M777.68 1703.2h0M562.96 1709.07h0M774.46 1709.07h0M574.95 1726.6h0M786.45 1726.6h0M536.38 1689.19h0M747.88 1689.19h0M557.78 1750.99h0M769.28 1750.99h0M519.37 1721.35h0M730.87 1721.35h0M513.01 1707.25h0M724.51 1707.25h0M577.59 1694.58h0M789.09 1694.58h0M566.01 1706.84h0M777.51 1706.84h0M546.57 1727.62h0M758.07 1727.62h0M553.2 1690.32h0M764.7 1690.32h0M531.81 1707.25h0M743.31 1707.25h0M569.61 1726.6h0M781.11 1726.6h0M557.71 1733.08h0M769.21 1733.08h0M543.89 1728.02h0M755.39 1728.02h0M543.61 1722.92h0M755.11 1722.92h0M524.06 1726.6h0M735.56 1726.6h0M546.37 1727.37h0M757.87 1727.37h0M547.23 1703.14h0M758.73 1703.14h0M517.18 1730.66h0M728.68 1730.66h0M545.04 1705.65h0M756.54 1705.65h0M518.39 1701.91h0M729.89 1701.91h0M542.47 1727.04h0M753.97 1727.04h0M545.84 1715.85h0M757.34 1715.85h0M531.51 1682.57h0M743.01 1682.57h0M526.5 1713.14h0M738 1713.14h0M521.8 1728.24h0M733.3 1728.24h0M503.98 1718.15h0M715.48 1718.15h0M533.21 1707.25h0M744.71 1707.25h0M541.45 1711.42h0M752.95 1711.42h0M527.04 1682.88h0M738.54 1682.88h0M540.39 1716.27h0M751.89 1716.27h0M560.79 1726.6h0M772.29 1726.6h0M529.04 1703.95h0M740.54 1703.95h0M534.51 1726.6h0M746.01 1726.6h0M544.04 1740.98h0M755.54 1740.98h0M533.83 1725.39h0M745.33 1725.39h0M511.91 1707.25h0M723.41 1707.25h0M547.89 1726.6h0M759.39 1726.6h0M569.7 1795.76h0M781.2 1795.76h0M537.32 1756.91h0M748.82 1756.91h0M553.4 1799.23h0M764.9 1799.23h0M542.88 1791.1h0M754.38 1791.1h0M565.73 1789.5h0M777.23 1789.5h0M540.53 1781.73h0M752.03 1781.73h0M549.62 1791.1h0M761.12 1791.1h0M534.08 1764.61h0M745.58 1764.61h0M524.6 1806.77h0M736.1 1806.77h0M568.16 1773.9h0M779.66 1773.9h0M537.06 1791.1h0M748.56 1791.1h0M569.09 1807.44h0M780.59 1807.44h0M527.93 1803.38h0M739.43 1803.38h0M548.2 1764.06h0M759.7 1764.06h0M551.8 1803.95h0M763.3 1803.95h0M535.57 1784.87h0M747.07 1784.87h0M428.48 1735.6h0M639.98 1735.6h0M493.44 1699.62h0M704.94 1699.62h0M428.85 1677.09h0M640.35 1677.09h0M449.3 1783.46h0M660.8 1783.46h0M447.81 1805.8h0M659.31 1805.8h0M406.97 1732.31h0M618.47 1732.31h0M471.75 1715.39h0M683.25 1715.39h0M465.29 1682.81h0M676.79 1682.81h0M500.45 1697.02h0M711.95 1697.02h0M453.26 1710.06h0M664.76 1710.06h0M472.65 1683.28h0M684.15 1683.28h0M432.42 1689.83h0M643.92 1689.83h0M373.32 1690.22h0M584.82 1690.22h0M369.58 1692.38h0M581.08 1692.38h0M424.12 1711.13h0M635.62 1711.13h0M412.32 1711.36h0M623.82 1711.36h0M369.64 1790.6h0M581.14 1790.6h0M410.05 1711.69h0M621.55 1711.69h0M430.68 1684.12h0M642.18 1684.12h0M435.09 1768.06h0M646.59 1768.06h0M482.99 1679.45h0M694.49 1679.45h0M456.83 1692.5h0M668.33 1692.5h0M421.18 1733.02h0M632.68 1733.02h0M380.8 1681.18h0M592.3 1681.18h0M452.02 1694.48h0M663.52 1694.48h0M401.68 1721.03h0M613.18 1721.03h0M469.79 1687.21h0M681.29 1687.21h0M468.62 1736.56h0M680.12 1736.56h0" stroke="#ff0000" stroke-width="7" stroke-linecap="round" fill="none"/>
<line x1="407.43" y1="1825.5" x2="407.43" y2="1819" stroke="#3c3c3c" stroke-width="1.4"/>
<line x1="407.43" y1="1481" x2="407.43" y2="1487.5" stroke="#3c3c3c" stroke-width="1.4"/>
<text x="406.43" y="1868.1" font-size="30.5" text-anchor="middle" font-weight="normal" fill="#3c3c3c">-2</text>
<line x1="474.75" y1="1825.5" x2="474.75" y2="1819" stroke="#3c3c3c" stroke-width="1.4"/>
<line x1="474.75" y1="1481" x2="474.75" y2="1487.5" stroke="#3c3c3c" stroke-width="1.4"/>
<text x="473.75" y="1868.1" font-size="30.5" text-anchor="middle" font-weight="normal" fill="#3c3c3c">0</text>
<line x1="542.07" y1="1825.5" x2="542.07" y2="1819" stroke="#3c3c3c" stroke-width="1.4"/>
<line x1="542.07" y1="1481" x2="542.07" y2="1487.5" stroke="#3c3c3c" stroke-width="1.4"/>
<text x="541.07" y="1868.1" font-size="30.5" text-anchor="middle" font-weight="normal" fill="#3c3c3c">2</text>
<line x1="609.4" y1="1825.5" x2="609.4" y2="1819" stroke="#3c3c3c" stroke-width="1.4"/>
<line x1="609.4" y1="1481" x2="609.4" y2="1487.5" stroke="#3c3c3c" stroke-width="1.4"/>
<text x="608.4" y="1868.1" font-size="30.5" text-anchor="middle" font-weight="normal" fill="#3c3c3c">4</text>
<line x1="676.72" y1="1825.5" x2="676.72" y2="1819" stroke="#3c3c3c" stroke-width="1.4"/>
<line x1="676.72" y1="1481" x2="676.72" y2="1487.5" stroke="#3c3c3c" stroke-width="1.4"/>
<text x="675.72" y="1868.1" font-size="30.5" text-anchor="middle" font-weight="normal" fill="#3c3c3c">6</text>
<line x1="744.04" y1="1825.5" x2="744.04" y2="1819" stroke="#3c3c3c" stroke-width="1.4"/>
<line x1="744.04" y1="1481" x2="744.04" y2="1487.5" stroke="#3c3c3c" stroke-width="1.4"/>
<text x="743.04" y="1868.1" font-size="30.5" text-anchor="middle" font-weight="normal" fill="#3c3c3c">8</text>
<line x1="369" y1="1825.5" x2="375.5" y2="1825.5" stroke="#3c3c3c" stroke-width="1.4"/>
<line x1="792" y1="1825.5" x2="785.5" y2="1825.5" stroke="#3c3c3c" stroke-width="1.4"/>
<text x="353.3" y="1836.5" font-size="30.5" text-anchor="end" font-weight="normal" fill="#3c3c3c">0</text>
<line x1="807" y1="1826" x2="811" y2="1826" stroke="#3c3c3c" stroke-width="1.3"/>
<line x1="923" y1="1826" x2="919" y2="1826" stroke="#3c3c3c" stroke-width="1.3"/>
<text x="939" y="1837" font-size="30.5" text-anchor="start" font-weight="normal" fill="#3c3c3c">0</text>
<line x1="369" y1="1739.5" x2="375.5" y2="1739.5" stroke="#3c3c3c" stroke-width="1.4"/>
<line x1="792" y1="1739.5" x2="785.5" y2="1739.5" stroke="#3c3c3c" stroke-width="1.4"/>
<text x="353.3" y="1750.5" font-size="30.5" text-anchor="end" font-weight="normal" fill="#3c3c3c">2</text>
<line x1="807" y1="1740" x2="811" y2="1740" stroke="#3c3c3c" stroke-width="1.3"/>
<line x1="923" y1="1740" x2="919" y2="1740" stroke="#3c3c3c" stroke-width="1.3"/>
<text x="939" y="1751" font-size="30.5" text-anchor="start" font-weight="normal" fill="#3c3c3c">2</text>
<line x1="369" y1="1653.5" x2="375.5" y2="1653.5" stroke="#3c3c3c" stroke-width="1.4"/>
<line x1="792" y1="1653.5" x2="785.5" y2="1653.5" stroke="#3c3c3c" stroke-width="1.4"/>
<text x="353.3" y="1664.5" font-size="30.5" text-anchor="end" font-weight="normal" fill="#3c3c3c">4</text>
<line x1="807" y1="1654" x2="811" y2="1654" stroke="#3c3c3c" stroke-width="1.3"/>
<line x1="923" y1="1654" x2="919" y2="1654" stroke="#3c3c3c" stroke-width="1.3"/>
<text x="939" y="1665" font-size="30.5" text-anchor="start" font-weight="normal" fill="#3c3c3c">4</text>
<line x1="369" y1="1567.5" x2="375.5" y2="1567.5" stroke="#3c3c3c" stroke-width="1.4"/>
<line x1="792" y1="1567.5" x2="785.5" y2="1567.5" stroke="#3c3c3c" stroke-width="1.4"/>
<text x="353.3" y="1578.5" font-size="30.5" text-anchor="end" font-weight="normal" fill="#3c3c3c">6</text>
<line x1="807" y1="1568" x2="811" y2="1568" stroke="#3c3c3c" stroke-width="1.3"/>
<line x1="923" y1="1568" x2="919" y2="1568" stroke="#3c3c3c" stroke-width="1.3"/>
<text x="939" y="1579" font-size="30.5" text-anchor="start" font-weight="normal" fill="#3c3c3c">6</text>
<line x1="369" y1="1481.5" x2="375.5" y2="1481.5" stroke="#3c3c3c" stroke-width="1.4"/>
<line x1="792" y1="1481.5" x2="785.5" y2="1481.5" stroke="#3c3c3c" stroke-width="1.4"/>
<text x="353.3" y="1501.5" font-size="30.5" text-anchor="end" font-weight="normal" fill="#3c3c3c">8</text>
<line x1="807" y1="1482" x2="811" y2="1482" stroke="#3c3c3c" stroke-width="1.3"/>
<line x1="923" y1="1482" x2="919" y2="1482" stroke="#3c3c3c" stroke-width="1.3"/>
<text x="939" y="1502" font-size="30.5" text-anchor="start" font-weight="normal" fill="#3c3c3c">8</text>
<rect x="369" y="1481" width="423" height="344.5" fill="none" stroke="#3c3c3c" stroke-width="1.5"/>
<text x="580.5" y="1911" font-size="30" text-anchor="middle" font-weight="normal" fill="#3c3c3c">phase (rad)</text>
<text x="319.5" y="1653.25" font-size="30" text-anchor="middle" font-weight="normal" fill="#3c3c3c" transform="rotate(-90 319.5 1653.25)">Firing rate (Hz)</text>
<text x="988" y="1654.75" font-size="30" text-anchor="middle" font-weight="normal" fill="#3c3c3c" transform="rotate(-90 988 1654.75)">Firing rate (Hz)</text>
<rect x="807" y="1481.8" width="116" height="344.2" fill="none" stroke="#3c3c3c" stroke-width="1.5"/>
<line x1="807" y1="1826" x2="807" y2="1822" stroke="#3c3c3c" stroke-width="1.3"/>
<line x1="807" y1="1481.8" x2="807" y2="1485.8" stroke="#3c3c3c" stroke-width="1.3"/>
<line x1="853.4" y1="1826" x2="853.4" y2="1822" stroke="#3c3c3c" stroke-width="1.3"/>
<line x1="853.4" y1="1481.8" x2="853.4" y2="1485.8" stroke="#3c3c3c" stroke-width="1.3"/>
<line x1="899.8" y1="1826" x2="899.8" y2="1822" stroke="#3c3c3c" stroke-width="1.3"/>
<line x1="899.8" y1="1481.8" x2="899.8" y2="1485.8" stroke="#3c3c3c" stroke-width="1.3"/>
<text x="809.5" y="1868.1" font-size="30.5" text-anchor="middle" font-weight="normal" fill="#3c3c3c">0</text>
<text x="853.8" y="1868.1" font-size="30.5" text-anchor="middle" font-weight="normal" fill="#3c3c3c">50</text>
<text x="899" y="1868.1" font-size="30.5" text-anchor="middle" font-weight="normal" fill="#3c3c3c">100</text>
<path d="M807 1826L817.67 1826L817.67 1791.6L815.54 1791.6L815.54 1757.2L812.38 1757.2L812.38 1722.8L839.48 1722.8L839.48 1688.4L906.3 1688.4L906.3 1654L918.82 1654L918.82 1619.6L922.44 1619.6L922.44 1585.2L855.07 1585.2L855.07 1550.8L821.57 1550.8L821.57 1516.4L807 1516.4L807 1481.8" fill="none" stroke="#ff0000" stroke-width="4.3" stroke-linejoin="miter" stroke-linecap="square"/>
<path d="M807 1826L813.5 1826L813.5 1791.6L825.19 1791.6L825.19 1757.2L839.11 1757.2L839.11 1722.8L842.73 1722.8L842.73 1688.4L815.17 1688.4L815.17 1654L807 1654L807 1619.6L807 1619.6L807 1481.8" fill="none" stroke="#0000ff" stroke-width="4.3" stroke-linejoin="miter" stroke-linecap="square"/>
<text x="118.6" y="662.4" font-size="30" text-anchor="middle" font-weight="bold" fill="#262626">phase shift:</text>
<text x="31.6" y="708.2" font-size="30" fill="#262626">p = 1.2 10<tspan dx="7" dy="-14.4" font-size="24">-14</tspan></text>
<path d="M31.29 785.58L33.38 741.25L119.43 743.08L205.22 742.56L208.6 815.57" fill="none" stroke="#9a9a9a" stroke-width="1.3"/>
<path d="M119.43 743.08L124.9 971.5" fill="none" stroke="#9a9a9a" stroke-width="1.3"/>
<path d="M32.59 903.7L39.63 977.24L124.9 971.76L210.69 969.41L207.82 895.1" fill="none" stroke="#9a9a9a" stroke-width="1.3"/>
<path d="M48.28 738.99h0M74.79 736.62h0M63.13 736.57h0M80.98 741.6h0M84.64 740.94h0M70.9 741.29h0M54.6 741.42h0M47.16 740.84h0M75.18 741.87h0M59.3 736.68h0M66.02 740.52h0M67.48 740.69h0M59.67 741h0M94.23 742.18h0M67.71 740.34h0M94.11 741.71h0M56.24 735.97h0M44.26 740.77h0M74.75 736.64h0M51.57 736.03h0M74.68 740.78h0M59.63 740.74h0M68.4 741.24h0M59.01 738.79h0M86.77 742.07h0M58.71 740.09h0M72.04 739.53h0M58.59 739.35h0M63.81 741.1h0M68.24 741.85h0M65.15 737.36h0M90.28 741.72h0M52.62 739.44h0M69.62 741.9h0M80.22 736.76h0M73.13 738.26h0M96.13 739.86h0M57.69 739.98h0M40.69 740.97h0M83.73 739.66h0M73.5 737.54h0M98.9 741h0M76.19 740.86h0M40.58 738.23h0M47.74 737.18h0M53.27 741.18h0M61.54 740.5h0M72.37 741.35h0M47.1 734.3h0M67.58 741.29h0M82.84 741.86h0M56.42 740.82h0M42.9 739.18h0M50.76 741.04h0M95.18 740.46h0M81.57 741.53h0M69.19 740.88h0M61.16 736.14h0M47.94 738.66h0M77.19 740.48h0M81.57 738.43h0M60.81 739.36h0M93.24 742.2h0M80.78 741.69h0M42.06 741.33h0M53.4 741.49h0M58.55 741.06h0M35.2 736.64h0M84.69 741.3h0M52.15 741.72h0M41.36 741.61h0M89.24 744.09h0M60.17 743.75h0M88.75 743.37h0M81.09 743.64h0M60.32 743.41h0M54.61 742.5h0M88.39 743.35h0M55.51 744.41h0M80.1 742.89h0M36 742.75h0M52.53 743.27h0M200 777.76h0M198.17 792.1h0M206 789.49h0M220.86 798.62h0M221.64 811.13h0M220.34 811.66h0M219.56 810.35h0M202.09 816.87h0M203.39 818.7h0M206 815.57h0M208.6 820.26h0M212.52 820.78h0M219.04 821.3h0M204.69 815.05h0M202.87 817.65h0M207.3 819.48h0M201.3 815.05h0M27.38 905.53h0M37.29 903.7h0M39.11 904.75h0M38.33 905.79h0M39.63 903.18h0M15.65 921.17h0M18.77 930.3h0M68.58 965.5h0M69.1 976.45h0M73.79 977.5h0M200.26 893.01h0M204.69 895.1h0M206.52 895.1h0M205.48 894.32h0M213.3 901.62h0M119.17 777.76h0" stroke="#a4a4a4" stroke-width="2.5" stroke-linecap="round" fill="none"/>
<path d="M148.83 744.79h0M159.51 744.87h0M142.17 743.76h0M164.75 745.07h0M142.3 744.84h0M172.39 744.76h0M178.54 745.58h0M152.03 743.52h0M131.65 744.66h0M176.3 744.3h0M162.06 744.62h0M164.31 742.69h0M167.21 744.27h0M160.56 743.42h0M158.14 744.76h0M158.9 744.55h0M123.63 739.88h0M147.57 743.95h0M134.71 743.8h0M158.55 741.78h0M149.33 741.95h0M125.17 739.8h0M140.4 741.14h0M133.23 739.77h0M148.97 742.68h0M157.45 743.98h0M135.8 745.11h0M122.07 741.5h0M138.16 742.3h0M128.7 744.59h0M143.68 740.59h0M157.55 741.92h0M153.6 742.72h0M155.66 745.5h0M169.42 743.83h0M169.1 744.53h0M143.42 741.13h0M156.53 743.83h0M177.44 745.6h0M157.27 742.97h0M173.75 742.84h0M128.28 742.85h0M157.64 742.12h0M158.47 745.24h0M143.79 742.69h0M135.14 741.45h0M178.33 744.15h0M177.67 745.47h0M156.52 742.54h0M178.82 744.46h0M146.09 742.22h0M179.01 744.45h0M138.61 742.71h0M129.09 743.24h0M147.71 742.18h0M167.29 745.1h0M122.8 742.42h0M137.88 745.31h0M167.3 743.14h0M137.53 740.8h0M179.27 743.99h0M157.23 743.49h0M159.36 744.09h0M165.07 742.55h0M166.05 743.26h0M152.92 742.67h0M139.22 743.03h0M148.91 742.58h0M165.16 744.23h0M124.14 740.55h0M148.41 745.28h0M173.43 744.38h0M122.88 744.14h0M146.79 743.55h0M163.03 744.32h0M149.93 745.26h0M144.35 742.5h0M171.35 743.24h0M139.19 744.72h0M125.86 744.58h0M162.24 743.54h0M138.61 744.44h0M174.75 743.31h0M149.73 743.52h0M150.84 742.54h0M130.92 743.07h0M169.03 742.68h0M135.35 744.61h0M167.87 744.57h0M123.51 743.76h0M178.69 745.68h0M162.63 742.12h0M170.78 743.27h0M159.41 745.49h0M163.28 742.49h0M138.97 745.22h0M130.7 743.22h0M146 741.41h0M158.06 741.74h0M128.3 741.63h0M126.2 739.37h0M155.33 744.57h0M172.89 743.16h0M147.02 742.25h0M156.78 743.53h0M176.36 744.04h0M125.26 743.63h0M130.78 743.35h0M151.32 745.27h0M154.16 744h0M182.53 745.68h0M189.57 745.68h0M175.23 743.6h0M166.88 746.47h0M129.07 736.04h0M122.56 743.86h0M120.47 749.07h0M116.04 755.59h0M121.25 758.2h0M116.04 764.72h0M117.86 768.63h0" stroke="#ff0000" stroke-width="9" stroke-linecap="round" fill="none"/>
<path d="M31.27 796.53h0M31.84 796.31h0M29 802.82h0M30.86 795.82h0M28.28 808.26h0M30.71 807.68h0M31.92 792.12h0M30.83 792.27h0M29.13 804.73h0M29.41 811.74h0M31.88 798.02h0M32.12 790.74h0M31.04 791.34h0M30.42 813.6h0M30.23 795.54h0M30.29 814.11h0M27.72 810.34h0M29.53 805.49h0M30.75 795.83h0M29.54 805.22h0M29.58 799.57h0M30.45 810.6h0M29.36 809.94h0M29.69 811.11h0M30.59 804.69h0M29.36 808.35h0M30.62 792.42h0M30.13 795.03h0M29.38 812.04h0M27.27 808.85h0M32.06 801.66h0M29.88 805.36h0M29.1 801.55h0M30.63 793.84h0M30.46 799.29h0M27.53 811.82h0M30.54 796.31h0M30.9 794.01h0M31.15 795.84h0M32.46 790.81h0M32.29 799.15h0M30.85 807.05h0M32.27 801.7h0M31.86 792.93h0M31.56 797.22h0M28.53 818.14h0M28.74 819.38h0M28.75 819.74h0M22.83 823.01h0M27.17 820.79h0M26.63 819.6h0M28.1 814.45h0M29.6 820.59h0M25.42 813.66h0M26.75 816.93h0M28.73 819.21h0M34.03 821.16h0M28.4 819.38h0M21.7 817.24h0M26.11 818.94h0M29.12 819.48h0M31.6 817.27h0M29.05 819.08h0M28.7 819.55h0M28.33 819.46h0M28.58 821.94h0M28.55 819.54h0M35.67 820.74h0M30.3 822.29h0M25.47 821.26h0M30.69 820.28h0M31.8 821.49h0M32.58 817.32h0M29.67 818.09h0M32.65 819.61h0M24.47 819.54h0M25.38 822.14h0M27.65 813.18h0M27.51 822.03h0M29.45 817.89h0M30.41 820.6h0M33.55 821.92h0M29.66 817.32h0M29.1 819.62h0M28.7 819.78h0M24.84 820.89h0M28.7 819.63h0M28.57 818.91h0M29.34 821.04h0M28.17 819.69h0M26.65 820.22h0M28.74 815.5h0M32.52 816.56h0M28.94 815.38h0M23.04 821.16h0M16.95 814.26h0M18.25 819.48h0M22.16 820.78h0M35.2 818.17h0" stroke="#0000ff" stroke-width="9" stroke-linecap="round" fill="none"/>
<text x="115.4" y="1360" font-size="30" text-anchor="middle" font-weight="bold" fill="#262626">phase shift:</text>
<text x="33.2" y="1405.5" font-size="30" fill="#262626">p = 3.0 10<tspan dx="2.8" dy="-15.7" font-size="24">-9</tspan></text>
<path d="M26.08 1511.66L30.77 1436.56L121.25 1437.86L204.17 1437.86L207.82 1507.74" fill="none" stroke="#9a9a9a" stroke-width="1.3"/>
<path d="M121.25 1437.86L122.56 1658.46" fill="none" stroke="#9a9a9a" stroke-width="1.3"/>
<path d="M28.68 1593.27L35.72 1664.2L122.56 1658.46L210.69 1656.9L207.82 1585.97" fill="none" stroke="#9a9a9a" stroke-width="1.3"/>
<path d="M194.82 1487.04h0M197.49 1486.55h0M198.77 1498.94h0M202.62 1499.82h0M203.81 1501.98h0M195.99 1486.72h0M197.38 1499.58h0M195.37 1490.58h0M204.89 1502.34h0M197.39 1496.55h0M198.62 1481.16h0M200.15 1498.9h0M197.35 1494.2h0M205.32 1502.61h0M195.31 1489.67h0M203.61 1499.49h0M195.28 1491.47h0M195 1494.47h0M201.33 1480.94h0M198.62 1497.07h0M201.48 1482.61h0M196.31 1494.19h0M196.81 1483.7h0M202.4 1481.27h0M194.52 1489.16h0M195.58 1495.25h0M204.22 1501.91h0M196.21 1489.99h0M195.47 1493.07h0M200.64 1498.92h0M198.56 1498.74h0M196.32 1497.27h0M197.6 1484.93h0M198.74 1499.91h0M202.08 1479.28h0M198.21 1489.14h0M195.73 1495.88h0M194.57 1492.96h0M204.64 1501.93h0M196.78 1485.62h0M200.13 1481.1h0M196.45 1498.6h0M195.81 1486.4h0M199.41 1484.63h0M196.05 1496.66h0M196.1 1489.68h0M201.28 1499.41h0M204.9 1502.41h0M199.03 1496.9h0M196.21 1485.84h0M195.06 1496.28h0M201.17 1481.55h0M197.56 1486.85h0M199.41 1484.69h0M198.75 1495.47h0M197.15 1491.58h0M198.43 1498.56h0M197.37 1496.61h0M196.06 1489.87h0M199.79 1496.4h0M206.24 1478.75h0M201.62 1478.59h0M202.27 1473.38h0M213.88 1477.69h0M197.91 1472.08h0M201.52 1473.93h0M203.86 1485.84h0M205.46 1478.26h0M209.18 1479.43h0M201.74 1480.59h0M199.31 1482.24h0M195.05 1472.11h0M208.77 1476.9h0M200 1481.84h0M199.35 1474.84h0M200.88 1475.93h0M205.09 1478.25h0M200.54 1483.85h0M193.28 1473.41h0M206.11 1486.13h0M202.51 1477.03h0M208.93 1482.69h0M207.78 1471.93h0M201.27 1475.54h0M195.81 1482.97h0M206.11 1478.12h0M200.58 1486.65h0M205.7 1479.73h0M204.88 1480.81h0M194.88 1477.92h0M203.59 1483.16h0M195.23 1476.58h0M198.69 1473.31h0M208.21 1482.4h0M209.39 1470.21h0M221.34 1509.45h0M222.36 1511.24h0M221.06 1505.84h0M222.97 1500.68h0M220.65 1494.03h0M220.83 1491.67h0M220.81 1503.94h0M220.67 1507.28h0M222.64 1508.65h0M222.85 1506.23h0M223.23 1511.95h0M222.29 1512.14h0M220.66 1491.91h0M220.54 1494.34h0M195.22 1461.63h0M205.6 1469.42h0M185.37 1460.11h0M200.95 1459.35h0M186.51 1465.42h0M195.22 1467.79h0M199.33 1475.43h0M214.56 1451.05h0M208.29 1468.82h0M192.56 1452.27h0M198.77 1458.77h0M207.52 1474.22h0" stroke="#a4a4a4" stroke-width="2.5" stroke-linecap="round" fill="none"/>
<path d="M117.59 1605.05h0M120.66 1627.21h0M115.56 1633.7h0M117.45 1601.87h0M116.54 1637.85h0M118.18 1607.77h0M118.15 1594.89h0M117.71 1597.23h0M111.5 1584.91h0M119.08 1616.26h0M119.4 1605.34h0M117.95 1603.2h0M121.89 1635.23h0M118.55 1603.57h0M119.12 1579.3h0M121.24 1605.1h0M119.8 1614.53h0M117.71 1646.74h0M117.15 1609.31h0M118.77 1597.8h0M115.95 1645.37h0M116.19 1581.88h0M118.83 1605.8h0M115.17 1619.94h0M114.99 1641.68h0M116.16 1580.69h0M119.45 1579.83h0M114.65 1639.7h0M119.61 1636.28h0M115.77 1648.49h0M118.72 1631.39h0M116.59 1633.13h0M126.51 1607.87h0M117.25 1593.41h0M117.89 1607.82h0M121.47 1598.32h0M118.89 1625.07h0M119.31 1610.37h0M114.93 1583.35h0M121.07 1640.48h0M123.61 1591.99h0M117.7 1645.79h0M119.16 1620.31h0M118.67 1642.93h0M118.82 1644.16h0M221.53 1599.1h0M222.04 1601.73h0M222.07 1596.26h0M221.67 1616.64h0M221.96 1594.72h0M221.03 1608.43h0M221.45 1601.62h0M221.61 1606.9h0M222.37 1598.46h0M35.2 1593.79h0M37.81 1599.53h0M44.85 1596.92h0M47.46 1595.62h0M15.65 1617.26h0M14.34 1618.04h0M43.02 1615.18h0M204.69 1582.06h0M207.3 1583.36h0M206 1582.32h0M108.21 1675.15h0M187.74 1668.89h0M200 1661.07h0M207.82 1586.49h0" stroke="#a4a4a4" stroke-width="1.9" stroke-linecap="round" fill="none"/>
<path d="M116.37 1497.75h0M119.35 1495.17h0M115.73 1449.54h0M115.55 1512.95h0M118.39 1520.19h0M118.37 1490.6h0M116.37 1522.6h0M114.47 1490.2h0M115.96 1477.45h0M113.68 1437.1h0M118.44 1484.6h0M118.89 1537.22h0M119.17 1493.48h0M122.09 1538.61h0M118.85 1544.23h0M119.41 1453.2h0M115.2 1443.31h0M118.88 1516.32h0M120.1 1477.81h0M117.04 1467.89h0M117.07 1526.68h0M116.86 1473.63h0M115.99 1497.45h0M114.34 1485.04h0M114.39 1444.48h0M119.62 1450.67h0M114.8 1463.91h0M120.35 1521.58h0M118.96 1463.78h0M117.48 1504.08h0M116.58 1504.42h0M119.32 1463.92h0M120.08 1483.34h0M113.26 1454.34h0M117.46 1440.49h0M114.66 1496.93h0M118.12 1439.53h0M120.1 1489.52h0M116.17 1439.14h0M117.57 1447.75h0M118.84 1502.48h0M119.73 1459.28h0M112.29 1447.04h0M115.94 1510.54h0M115.24 1442.14h0M120.78 1506.64h0M116.02 1514.62h0M120.45 1506h0M117.85 1448.09h0M114.95 1463.4h0M117.41 1434.9h0M120.38 1491.89h0M115.07 1486.32h0M114.46 1458.71h0M118.11 1539.66h0M114.48 1444.51h0M115.02 1443.5h0M119.14 1503.62h0M113.26 1454.11h0M118.83 1489.17h0M117.86 1484.29h0M117.59 1535.82h0M116.46 1464.41h0M120.44 1494.15h0M118.93 1496.27h0M119.22 1481.23h0M118 1527.37h0M113.83 1446.68h0M119.75 1474.36h0M117.47 1464.06h0M121.15 1505.73h0M117.95 1447.64h0M113.94 1472.01h0M120.41 1504.78h0M115.05 1499.28h0M119.2 1542.46h0M119.66 1505.25h0M115.79 1463.62h0M113.84 1471.23h0M117.32 1441.87h0M119.79 1480.23h0M113.93 1441.68h0M119.55 1454.7h0M121.29 1522.34h0M114.96 1490.85h0M115.28 1480.85h0M115.92 1437.71h0M113.7 1466.87h0M120.58 1491.43h0M119.51 1539.57h0M117.89 1446.12h0M116.09 1447.46h0M119.59 1444.01h0M117.39 1494.88h0M116.91 1464.9h0M119.44 1542.56h0M116.35 1457.92h0M118.92 1536.49h0M120.89 1504.98h0M119.06 1470.83h0M115.33 1493.36h0M119.1 1440.67h0M117.05 1486.37h0M119.97 1536.42h0M116.14 1490.16h0M117.28 1517.2h0M119.24 1486.88h0M115.73 1501.76h0M117.71 1457.2h0M116.27 1515.52h0M118.02 1545.28h0M112.83 1453.32h0M118.18 1484.2h0M117.37 1529.74h0M116.1 1512.17h0M116.36 1499.05h0M113.69 1474.21h0M116.34 1514.59h0M117.87 1519.42h0M118.93 1500.31h0M120.09 1488.89h0M118.38 1536.63h0M119.57 1471.72h0M115.24 1449.45h0M120.56 1480.68h0M117.09 1448.94h0M120.17 1518.63h0M118.96 1434.85h0M119.32 1469.36h0M117.86 1508.02h0M120.19 1527.56h0M118.54 1472.39h0M119.06 1490.71h0M120.04 1502.82h0M115.96 1452.39h0M117.69 1434.87h0M120.87 1520.23h0M115.75 1439.52h0M114.9 1487.77h0M119.86 1457.18h0M117.77 1529.22h0M120.01 1526.62h0M118.09 1477.39h0M114.6 1460.11h0M116.6 1435.85h0M119.57 1499.17h0M117.18 1490.56h0M118.43 1468.69h0M117.7 1476.05h0M118.48 1518.69h0M113.43 1435.51h0M123.86 1438.64h0M127.77 1442.56h0M131.68 1447.77h0M133.51 1454.29h0M132.99 1459.5h0M128.29 1462.89h0M123.86 1463.94h0M104.82 1529.39h0M119.95 1545.55h0M120.47 1540.34h0" stroke="#0000ff" stroke-width="8.4" stroke-linecap="round" fill="none"/>
<path d="M19.32 1470.44h0M31.65 1449.91h0M20.86 1444.45h0M28.17 1438.04h0M25.76 1442.47h0M32.22 1458.49h0M27.1 1460.33h0M28.52 1438.54h0M29.03 1474.36h0M28.78 1477.61h0M32.95 1471.88h0M18.09 1467.12h0M33.44 1480.01h0M20.34 1447.05h0M19.69 1453.74h0M19.34 1455.16h0M19.24 1447.96h0M22.97 1458.02h0M25.17 1472.5h0M32.09 1445.35h0M29.58 1480.49h0M24.97 1447.81h0M24.97 1459.1h0M25.75 1438.61h0M30.14 1474.37h0M29.65 1478.84h0M32.98 1474.13h0M30.69 1481.58h0M29.52 1457.41h0M33.77 1469.09h0M26.05 1471.76h0M23.99 1446.54h0M29.15 1449.42h0M22.22 1474.46h0M33.16 1463.07h0M19.46 1454.98h0M24.33 1466.55h0M23.7 1444.28h0M23.44 1437.67h0M19.41 1457.86h0M26.46 1437.63h0M30.78 1483.54h0M33.64 1453.07h0M22.68 1441.19h0M22.76 1437.67h0M31.6 1466.37h0M32.36 1460.38h0M34.41 1459.11h0M27.55 1466.67h0M25.35 1445.57h0M32.6 1458.58h0M23.38 1448.42h0M20.87 1476.73h0M21.51 1463.24h0M28.62 1469.43h0M28.62 1441.89h0M23.36 1456.99h0M30.96 1478.66h0M29.41 1452.27h0M26.45 1443.3h0M27.61 1441.32h0M28.87 1481.53h0M26.24 1439.3h0M25.63 1459.99h0M23.54 1444.63h0M18.73 1459.02h0M22.44 1469.87h0M19.88 1451.34h0M33.52 1451.94h0M19.95 1451.42h0M34.17 1454.02h0M24.57 1441.58h0M28.9 1447.42h0M19.22 1459.61h0M24.91 1478.94h0M22.69 1433.95h0M35.72 1432.91h0M15.65 1449.07h0M35.2 1447.77h0M5.22 1477.76h0M9.13 1477.76h0M7.3 1476.45h0M44.85 1491.58h0M42.24 1497.31h0M33.9 1503.31h0M23.99 1511.66h0M39.11 1479.58h0M17.73 1466.02h0" stroke="#ff0000" stroke-width="8.4" stroke-linecap="round" fill="none"/>
<path d="M8.34 1485.06h0" stroke="#ff0000" stroke-width="3" stroke-linecap="round" fill="none"/>
</svg>
</body></html>
